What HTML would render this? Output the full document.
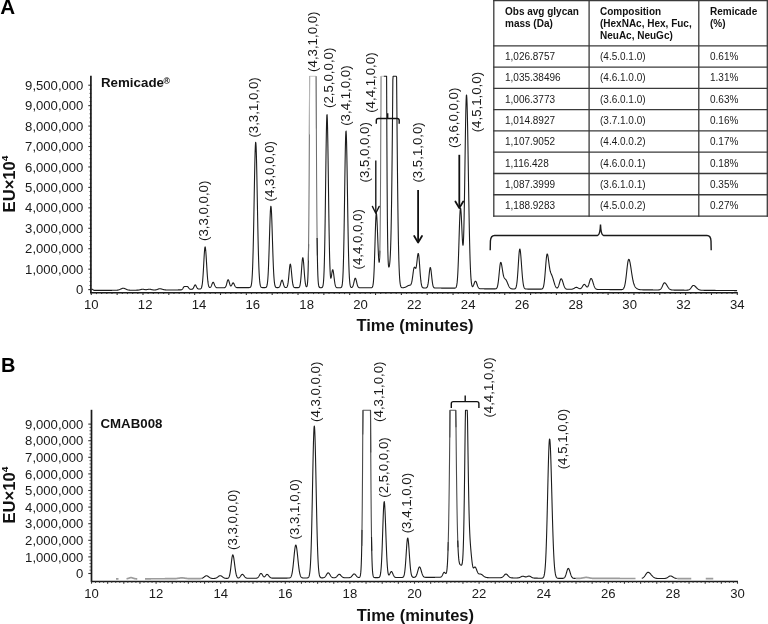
<!DOCTYPE html>
<html><head><meta charset="utf-8"><style>
html,body{margin:0;padding:0;background:#fff;}
svg{display:block;font-family:"Liberation Sans", sans-serif;will-change:transform;}
</style></head><body>
<svg width="768" height="624" viewBox="0 0 768 624">
<rect width="768" height="624" fill="#fff"/>
<text x="0.20" y="14.20" font-size="20.6" font-weight="bold" text-anchor="start" fill="#000" >A</text>
<text transform="translate(14.7,212.4) rotate(-90) scale(1.065,1)" font-size="15.6" font-weight="bold" fill="#111">EU×10<tspan font-size="9.5" dy="-6.3">4</tspan></text>
<text transform="translate(83.40,89.80) scale(1.05,1)" font-size="12.5" font-weight="normal" text-anchor="end" fill="#1a1a1a" >9,500,000</text>
<text transform="translate(83.40,110.24) scale(1.05,1)" font-size="12.5" font-weight="normal" text-anchor="end" fill="#1a1a1a" >9,000,000</text>
<text transform="translate(83.40,130.68) scale(1.05,1)" font-size="12.5" font-weight="normal" text-anchor="end" fill="#1a1a1a" >8,000,000</text>
<text transform="translate(83.40,151.12) scale(1.05,1)" font-size="12.5" font-weight="normal" text-anchor="end" fill="#1a1a1a" >7,000,000</text>
<text transform="translate(83.40,171.56) scale(1.05,1)" font-size="12.5" font-weight="normal" text-anchor="end" fill="#1a1a1a" >6,000,000</text>
<text transform="translate(83.40,192.00) scale(1.05,1)" font-size="12.5" font-weight="normal" text-anchor="end" fill="#1a1a1a" >5,000,000</text>
<text transform="translate(83.40,212.44) scale(1.05,1)" font-size="12.5" font-weight="normal" text-anchor="end" fill="#1a1a1a" >4,000,000</text>
<text transform="translate(83.40,232.88) scale(1.05,1)" font-size="12.5" font-weight="normal" text-anchor="end" fill="#1a1a1a" >3,000,000</text>
<text transform="translate(83.40,253.32) scale(1.05,1)" font-size="12.5" font-weight="normal" text-anchor="end" fill="#1a1a1a" >2,000,000</text>
<text transform="translate(83.40,273.76) scale(1.05,1)" font-size="12.5" font-weight="normal" text-anchor="end" fill="#1a1a1a" >1,000,000</text>
<text transform="translate(83.40,294.20) scale(1.05,1)" font-size="12.5" font-weight="normal" text-anchor="end" fill="#1a1a1a" >0</text>
<line x1="88.30" y1="85.20" x2="91.30" y2="85.20" stroke="#333" stroke-width="1.1"/>
<line x1="89.40" y1="89.29" x2="91.30" y2="89.29" stroke="#666" stroke-width="0.9"/>
<line x1="89.40" y1="93.38" x2="91.30" y2="93.38" stroke="#666" stroke-width="0.9"/>
<line x1="89.40" y1="97.46" x2="91.30" y2="97.46" stroke="#666" stroke-width="0.9"/>
<line x1="89.40" y1="101.55" x2="91.30" y2="101.55" stroke="#666" stroke-width="0.9"/>
<line x1="88.30" y1="105.64" x2="91.30" y2="105.64" stroke="#333" stroke-width="1.1"/>
<line x1="89.40" y1="109.73" x2="91.30" y2="109.73" stroke="#666" stroke-width="0.9"/>
<line x1="89.40" y1="113.82" x2="91.30" y2="113.82" stroke="#666" stroke-width="0.9"/>
<line x1="89.40" y1="117.90" x2="91.30" y2="117.90" stroke="#666" stroke-width="0.9"/>
<line x1="89.40" y1="121.99" x2="91.30" y2="121.99" stroke="#666" stroke-width="0.9"/>
<line x1="88.30" y1="126.08" x2="91.30" y2="126.08" stroke="#333" stroke-width="1.1"/>
<line x1="89.40" y1="130.17" x2="91.30" y2="130.17" stroke="#666" stroke-width="0.9"/>
<line x1="89.40" y1="134.26" x2="91.30" y2="134.26" stroke="#666" stroke-width="0.9"/>
<line x1="89.40" y1="138.34" x2="91.30" y2="138.34" stroke="#666" stroke-width="0.9"/>
<line x1="89.40" y1="142.43" x2="91.30" y2="142.43" stroke="#666" stroke-width="0.9"/>
<line x1="88.30" y1="146.52" x2="91.30" y2="146.52" stroke="#333" stroke-width="1.1"/>
<line x1="89.40" y1="150.61" x2="91.30" y2="150.61" stroke="#666" stroke-width="0.9"/>
<line x1="89.40" y1="154.70" x2="91.30" y2="154.70" stroke="#666" stroke-width="0.9"/>
<line x1="89.40" y1="158.78" x2="91.30" y2="158.78" stroke="#666" stroke-width="0.9"/>
<line x1="89.40" y1="162.87" x2="91.30" y2="162.87" stroke="#666" stroke-width="0.9"/>
<line x1="88.30" y1="166.96" x2="91.30" y2="166.96" stroke="#333" stroke-width="1.1"/>
<line x1="89.40" y1="171.05" x2="91.30" y2="171.05" stroke="#666" stroke-width="0.9"/>
<line x1="89.40" y1="175.14" x2="91.30" y2="175.14" stroke="#666" stroke-width="0.9"/>
<line x1="89.40" y1="179.22" x2="91.30" y2="179.22" stroke="#666" stroke-width="0.9"/>
<line x1="89.40" y1="183.31" x2="91.30" y2="183.31" stroke="#666" stroke-width="0.9"/>
<line x1="88.30" y1="187.40" x2="91.30" y2="187.40" stroke="#333" stroke-width="1.1"/>
<line x1="89.40" y1="191.49" x2="91.30" y2="191.49" stroke="#666" stroke-width="0.9"/>
<line x1="89.40" y1="195.58" x2="91.30" y2="195.58" stroke="#666" stroke-width="0.9"/>
<line x1="89.40" y1="199.66" x2="91.30" y2="199.66" stroke="#666" stroke-width="0.9"/>
<line x1="89.40" y1="203.75" x2="91.30" y2="203.75" stroke="#666" stroke-width="0.9"/>
<line x1="88.30" y1="207.84" x2="91.30" y2="207.84" stroke="#333" stroke-width="1.1"/>
<line x1="89.40" y1="211.93" x2="91.30" y2="211.93" stroke="#666" stroke-width="0.9"/>
<line x1="89.40" y1="216.02" x2="91.30" y2="216.02" stroke="#666" stroke-width="0.9"/>
<line x1="89.40" y1="220.10" x2="91.30" y2="220.10" stroke="#666" stroke-width="0.9"/>
<line x1="89.40" y1="224.19" x2="91.30" y2="224.19" stroke="#666" stroke-width="0.9"/>
<line x1="88.30" y1="228.28" x2="91.30" y2="228.28" stroke="#333" stroke-width="1.1"/>
<line x1="89.40" y1="232.37" x2="91.30" y2="232.37" stroke="#666" stroke-width="0.9"/>
<line x1="89.40" y1="236.46" x2="91.30" y2="236.46" stroke="#666" stroke-width="0.9"/>
<line x1="89.40" y1="240.54" x2="91.30" y2="240.54" stroke="#666" stroke-width="0.9"/>
<line x1="89.40" y1="244.63" x2="91.30" y2="244.63" stroke="#666" stroke-width="0.9"/>
<line x1="88.30" y1="248.72" x2="91.30" y2="248.72" stroke="#333" stroke-width="1.1"/>
<line x1="89.40" y1="252.81" x2="91.30" y2="252.81" stroke="#666" stroke-width="0.9"/>
<line x1="89.40" y1="256.90" x2="91.30" y2="256.90" stroke="#666" stroke-width="0.9"/>
<line x1="89.40" y1="260.98" x2="91.30" y2="260.98" stroke="#666" stroke-width="0.9"/>
<line x1="89.40" y1="265.07" x2="91.30" y2="265.07" stroke="#666" stroke-width="0.9"/>
<line x1="88.30" y1="269.16" x2="91.30" y2="269.16" stroke="#333" stroke-width="1.1"/>
<line x1="89.40" y1="273.25" x2="91.30" y2="273.25" stroke="#666" stroke-width="0.9"/>
<line x1="89.40" y1="277.34" x2="91.30" y2="277.34" stroke="#666" stroke-width="0.9"/>
<line x1="89.40" y1="281.42" x2="91.30" y2="281.42" stroke="#666" stroke-width="0.9"/>
<line x1="89.40" y1="285.51" x2="91.30" y2="285.51" stroke="#666" stroke-width="0.9"/>
<line x1="88.30" y1="289.60" x2="91.30" y2="289.60" stroke="#333" stroke-width="1.1"/>
<line x1="90.90" y1="75.80" x2="90.90" y2="293.30" stroke="#1a1a1a" stroke-width="1.7"/>
<line x1="90.10" y1="292.70" x2="737.80" y2="292.70" stroke="#1a1a1a" stroke-width="1.45"/>
<line x1="91.30" y1="292.70" x2="91.30" y2="295.00" stroke="#333" stroke-width="1.1"/>
<line x1="96.47" y1="292.70" x2="96.47" y2="294.10" stroke="#333" stroke-width="1.1"/>
<line x1="101.64" y1="292.70" x2="101.64" y2="294.10" stroke="#333" stroke-width="1.1"/>
<line x1="106.80" y1="292.70" x2="106.80" y2="294.10" stroke="#333" stroke-width="1.1"/>
<line x1="111.97" y1="292.70" x2="111.97" y2="294.10" stroke="#333" stroke-width="1.1"/>
<line x1="117.14" y1="292.70" x2="117.14" y2="295.00" stroke="#333" stroke-width="1.1"/>
<line x1="122.31" y1="292.70" x2="122.31" y2="294.10" stroke="#333" stroke-width="1.1"/>
<line x1="127.48" y1="292.70" x2="127.48" y2="294.10" stroke="#333" stroke-width="1.1"/>
<line x1="132.64" y1="292.70" x2="132.64" y2="294.10" stroke="#333" stroke-width="1.1"/>
<line x1="137.81" y1="292.70" x2="137.81" y2="294.10" stroke="#333" stroke-width="1.1"/>
<line x1="142.98" y1="292.70" x2="142.98" y2="295.00" stroke="#333" stroke-width="1.1"/>
<line x1="148.15" y1="292.70" x2="148.15" y2="294.10" stroke="#333" stroke-width="1.1"/>
<line x1="153.32" y1="292.70" x2="153.32" y2="294.10" stroke="#333" stroke-width="1.1"/>
<line x1="158.48" y1="292.70" x2="158.48" y2="294.10" stroke="#333" stroke-width="1.1"/>
<line x1="163.65" y1="292.70" x2="163.65" y2="294.10" stroke="#333" stroke-width="1.1"/>
<line x1="168.82" y1="292.70" x2="168.82" y2="295.00" stroke="#333" stroke-width="1.1"/>
<line x1="173.99" y1="292.70" x2="173.99" y2="294.10" stroke="#333" stroke-width="1.1"/>
<line x1="179.16" y1="292.70" x2="179.16" y2="294.10" stroke="#333" stroke-width="1.1"/>
<line x1="184.32" y1="292.70" x2="184.32" y2="294.10" stroke="#333" stroke-width="1.1"/>
<line x1="189.49" y1="292.70" x2="189.49" y2="294.10" stroke="#333" stroke-width="1.1"/>
<line x1="194.66" y1="292.70" x2="194.66" y2="295.00" stroke="#333" stroke-width="1.1"/>
<line x1="199.83" y1="292.70" x2="199.83" y2="294.10" stroke="#333" stroke-width="1.1"/>
<line x1="205.00" y1="292.70" x2="205.00" y2="294.10" stroke="#333" stroke-width="1.1"/>
<line x1="210.16" y1="292.70" x2="210.16" y2="294.10" stroke="#333" stroke-width="1.1"/>
<line x1="215.33" y1="292.70" x2="215.33" y2="294.10" stroke="#333" stroke-width="1.1"/>
<line x1="220.50" y1="292.70" x2="220.50" y2="295.00" stroke="#333" stroke-width="1.1"/>
<line x1="225.67" y1="292.70" x2="225.67" y2="294.10" stroke="#333" stroke-width="1.1"/>
<line x1="230.84" y1="292.70" x2="230.84" y2="294.10" stroke="#333" stroke-width="1.1"/>
<line x1="236.00" y1="292.70" x2="236.00" y2="294.10" stroke="#333" stroke-width="1.1"/>
<line x1="241.17" y1="292.70" x2="241.17" y2="294.10" stroke="#333" stroke-width="1.1"/>
<line x1="246.34" y1="292.70" x2="246.34" y2="295.00" stroke="#333" stroke-width="1.1"/>
<line x1="251.51" y1="292.70" x2="251.51" y2="294.10" stroke="#333" stroke-width="1.1"/>
<line x1="256.68" y1="292.70" x2="256.68" y2="294.10" stroke="#333" stroke-width="1.1"/>
<line x1="261.84" y1="292.70" x2="261.84" y2="294.10" stroke="#333" stroke-width="1.1"/>
<line x1="267.01" y1="292.70" x2="267.01" y2="294.10" stroke="#333" stroke-width="1.1"/>
<line x1="272.18" y1="292.70" x2="272.18" y2="295.00" stroke="#333" stroke-width="1.1"/>
<line x1="277.35" y1="292.70" x2="277.35" y2="294.10" stroke="#333" stroke-width="1.1"/>
<line x1="282.52" y1="292.70" x2="282.52" y2="294.10" stroke="#333" stroke-width="1.1"/>
<line x1="287.68" y1="292.70" x2="287.68" y2="294.10" stroke="#333" stroke-width="1.1"/>
<line x1="292.85" y1="292.70" x2="292.85" y2="294.10" stroke="#333" stroke-width="1.1"/>
<line x1="298.02" y1="292.70" x2="298.02" y2="295.00" stroke="#333" stroke-width="1.1"/>
<line x1="303.19" y1="292.70" x2="303.19" y2="294.10" stroke="#333" stroke-width="1.1"/>
<line x1="308.36" y1="292.70" x2="308.36" y2="294.10" stroke="#333" stroke-width="1.1"/>
<line x1="313.52" y1="292.70" x2="313.52" y2="294.10" stroke="#333" stroke-width="1.1"/>
<line x1="318.69" y1="292.70" x2="318.69" y2="294.10" stroke="#333" stroke-width="1.1"/>
<line x1="323.86" y1="292.70" x2="323.86" y2="295.00" stroke="#333" stroke-width="1.1"/>
<line x1="329.03" y1="292.70" x2="329.03" y2="294.10" stroke="#333" stroke-width="1.1"/>
<line x1="334.20" y1="292.70" x2="334.20" y2="294.10" stroke="#333" stroke-width="1.1"/>
<line x1="339.36" y1="292.70" x2="339.36" y2="294.10" stroke="#333" stroke-width="1.1"/>
<line x1="344.53" y1="292.70" x2="344.53" y2="294.10" stroke="#333" stroke-width="1.1"/>
<line x1="349.70" y1="292.70" x2="349.70" y2="295.00" stroke="#333" stroke-width="1.1"/>
<line x1="354.87" y1="292.70" x2="354.87" y2="294.10" stroke="#333" stroke-width="1.1"/>
<line x1="360.04" y1="292.70" x2="360.04" y2="294.10" stroke="#333" stroke-width="1.1"/>
<line x1="365.20" y1="292.70" x2="365.20" y2="294.10" stroke="#333" stroke-width="1.1"/>
<line x1="370.37" y1="292.70" x2="370.37" y2="294.10" stroke="#333" stroke-width="1.1"/>
<line x1="375.54" y1="292.70" x2="375.54" y2="295.00" stroke="#333" stroke-width="1.1"/>
<line x1="380.71" y1="292.70" x2="380.71" y2="294.10" stroke="#333" stroke-width="1.1"/>
<line x1="385.88" y1="292.70" x2="385.88" y2="294.10" stroke="#333" stroke-width="1.1"/>
<line x1="391.04" y1="292.70" x2="391.04" y2="294.10" stroke="#333" stroke-width="1.1"/>
<line x1="396.21" y1="292.70" x2="396.21" y2="294.10" stroke="#333" stroke-width="1.1"/>
<line x1="401.38" y1="292.70" x2="401.38" y2="295.00" stroke="#333" stroke-width="1.1"/>
<line x1="406.55" y1="292.70" x2="406.55" y2="294.10" stroke="#333" stroke-width="1.1"/>
<line x1="411.72" y1="292.70" x2="411.72" y2="294.10" stroke="#333" stroke-width="1.1"/>
<line x1="416.88" y1="292.70" x2="416.88" y2="294.10" stroke="#333" stroke-width="1.1"/>
<line x1="422.05" y1="292.70" x2="422.05" y2="294.10" stroke="#333" stroke-width="1.1"/>
<line x1="427.22" y1="292.70" x2="427.22" y2="295.00" stroke="#333" stroke-width="1.1"/>
<line x1="432.39" y1="292.70" x2="432.39" y2="294.10" stroke="#333" stroke-width="1.1"/>
<line x1="437.56" y1="292.70" x2="437.56" y2="294.10" stroke="#333" stroke-width="1.1"/>
<line x1="442.72" y1="292.70" x2="442.72" y2="294.10" stroke="#333" stroke-width="1.1"/>
<line x1="447.89" y1="292.70" x2="447.89" y2="294.10" stroke="#333" stroke-width="1.1"/>
<line x1="453.06" y1="292.70" x2="453.06" y2="295.00" stroke="#333" stroke-width="1.1"/>
<line x1="458.23" y1="292.70" x2="458.23" y2="294.10" stroke="#333" stroke-width="1.1"/>
<line x1="463.40" y1="292.70" x2="463.40" y2="294.10" stroke="#333" stroke-width="1.1"/>
<line x1="468.56" y1="292.70" x2="468.56" y2="294.10" stroke="#333" stroke-width="1.1"/>
<line x1="473.73" y1="292.70" x2="473.73" y2="294.10" stroke="#333" stroke-width="1.1"/>
<line x1="478.90" y1="292.70" x2="478.90" y2="295.00" stroke="#333" stroke-width="1.1"/>
<line x1="484.07" y1="292.70" x2="484.07" y2="294.10" stroke="#333" stroke-width="1.1"/>
<line x1="489.24" y1="292.70" x2="489.24" y2="294.10" stroke="#333" stroke-width="1.1"/>
<line x1="494.40" y1="292.70" x2="494.40" y2="294.10" stroke="#333" stroke-width="1.1"/>
<line x1="499.57" y1="292.70" x2="499.57" y2="294.10" stroke="#333" stroke-width="1.1"/>
<line x1="504.74" y1="292.70" x2="504.74" y2="295.00" stroke="#333" stroke-width="1.1"/>
<line x1="509.91" y1="292.70" x2="509.91" y2="294.10" stroke="#333" stroke-width="1.1"/>
<line x1="515.08" y1="292.70" x2="515.08" y2="294.10" stroke="#333" stroke-width="1.1"/>
<line x1="520.24" y1="292.70" x2="520.24" y2="294.10" stroke="#333" stroke-width="1.1"/>
<line x1="525.41" y1="292.70" x2="525.41" y2="294.10" stroke="#333" stroke-width="1.1"/>
<line x1="530.58" y1="292.70" x2="530.58" y2="295.00" stroke="#333" stroke-width="1.1"/>
<line x1="535.75" y1="292.70" x2="535.75" y2="294.10" stroke="#333" stroke-width="1.1"/>
<line x1="540.92" y1="292.70" x2="540.92" y2="294.10" stroke="#333" stroke-width="1.1"/>
<line x1="546.08" y1="292.70" x2="546.08" y2="294.10" stroke="#333" stroke-width="1.1"/>
<line x1="551.25" y1="292.70" x2="551.25" y2="294.10" stroke="#333" stroke-width="1.1"/>
<line x1="556.42" y1="292.70" x2="556.42" y2="295.00" stroke="#333" stroke-width="1.1"/>
<line x1="561.59" y1="292.70" x2="561.59" y2="294.10" stroke="#333" stroke-width="1.1"/>
<line x1="566.76" y1="292.70" x2="566.76" y2="294.10" stroke="#333" stroke-width="1.1"/>
<line x1="571.92" y1="292.70" x2="571.92" y2="294.10" stroke="#333" stroke-width="1.1"/>
<line x1="577.09" y1="292.70" x2="577.09" y2="294.10" stroke="#333" stroke-width="1.1"/>
<line x1="582.26" y1="292.70" x2="582.26" y2="295.00" stroke="#333" stroke-width="1.1"/>
<line x1="587.43" y1="292.70" x2="587.43" y2="294.10" stroke="#333" stroke-width="1.1"/>
<line x1="592.60" y1="292.70" x2="592.60" y2="294.10" stroke="#333" stroke-width="1.1"/>
<line x1="597.76" y1="292.70" x2="597.76" y2="294.10" stroke="#333" stroke-width="1.1"/>
<line x1="602.93" y1="292.70" x2="602.93" y2="294.10" stroke="#333" stroke-width="1.1"/>
<line x1="608.10" y1="292.70" x2="608.10" y2="295.00" stroke="#333" stroke-width="1.1"/>
<line x1="613.27" y1="292.70" x2="613.27" y2="294.10" stroke="#333" stroke-width="1.1"/>
<line x1="618.44" y1="292.70" x2="618.44" y2="294.10" stroke="#333" stroke-width="1.1"/>
<line x1="623.60" y1="292.70" x2="623.60" y2="294.10" stroke="#333" stroke-width="1.1"/>
<line x1="628.77" y1="292.70" x2="628.77" y2="294.10" stroke="#333" stroke-width="1.1"/>
<line x1="633.94" y1="292.70" x2="633.94" y2="295.00" stroke="#333" stroke-width="1.1"/>
<line x1="639.11" y1="292.70" x2="639.11" y2="294.10" stroke="#333" stroke-width="1.1"/>
<line x1="644.28" y1="292.70" x2="644.28" y2="294.10" stroke="#333" stroke-width="1.1"/>
<line x1="649.44" y1="292.70" x2="649.44" y2="294.10" stroke="#333" stroke-width="1.1"/>
<line x1="654.61" y1="292.70" x2="654.61" y2="294.10" stroke="#333" stroke-width="1.1"/>
<line x1="659.78" y1="292.70" x2="659.78" y2="295.00" stroke="#333" stroke-width="1.1"/>
<line x1="664.95" y1="292.70" x2="664.95" y2="294.10" stroke="#333" stroke-width="1.1"/>
<line x1="670.12" y1="292.70" x2="670.12" y2="294.10" stroke="#333" stroke-width="1.1"/>
<line x1="675.28" y1="292.70" x2="675.28" y2="294.10" stroke="#333" stroke-width="1.1"/>
<line x1="680.45" y1="292.70" x2="680.45" y2="294.10" stroke="#333" stroke-width="1.1"/>
<line x1="685.62" y1="292.70" x2="685.62" y2="295.00" stroke="#333" stroke-width="1.1"/>
<line x1="690.79" y1="292.70" x2="690.79" y2="294.10" stroke="#333" stroke-width="1.1"/>
<line x1="695.96" y1="292.70" x2="695.96" y2="294.10" stroke="#333" stroke-width="1.1"/>
<line x1="701.12" y1="292.70" x2="701.12" y2="294.10" stroke="#333" stroke-width="1.1"/>
<line x1="706.29" y1="292.70" x2="706.29" y2="294.10" stroke="#333" stroke-width="1.1"/>
<line x1="711.46" y1="292.70" x2="711.46" y2="295.00" stroke="#333" stroke-width="1.1"/>
<line x1="716.63" y1="292.70" x2="716.63" y2="294.10" stroke="#333" stroke-width="1.1"/>
<line x1="721.80" y1="292.70" x2="721.80" y2="294.10" stroke="#333" stroke-width="1.1"/>
<line x1="726.96" y1="292.70" x2="726.96" y2="294.10" stroke="#333" stroke-width="1.1"/>
<line x1="732.13" y1="292.70" x2="732.13" y2="294.10" stroke="#333" stroke-width="1.1"/>
<line x1="737.30" y1="292.70" x2="737.30" y2="295.00" stroke="#333" stroke-width="1.1"/>
<text transform="translate(91.30,309.00) scale(1.05,1)" font-size="12.5" font-weight="normal" text-anchor="middle" fill="#1a1a1a" >10</text>
<text transform="translate(145.13,309.00) scale(1.05,1)" font-size="12.5" font-weight="normal" text-anchor="middle" fill="#1a1a1a" >12</text>
<text transform="translate(198.97,309.00) scale(1.05,1)" font-size="12.5" font-weight="normal" text-anchor="middle" fill="#1a1a1a" >14</text>
<text transform="translate(252.80,309.00) scale(1.05,1)" font-size="12.5" font-weight="normal" text-anchor="middle" fill="#1a1a1a" >16</text>
<text transform="translate(306.63,309.00) scale(1.05,1)" font-size="12.5" font-weight="normal" text-anchor="middle" fill="#1a1a1a" >18</text>
<text transform="translate(360.47,309.00) scale(1.05,1)" font-size="12.5" font-weight="normal" text-anchor="middle" fill="#1a1a1a" >20</text>
<text transform="translate(414.30,309.00) scale(1.05,1)" font-size="12.5" font-weight="normal" text-anchor="middle" fill="#1a1a1a" >22</text>
<text transform="translate(468.13,309.00) scale(1.05,1)" font-size="12.5" font-weight="normal" text-anchor="middle" fill="#1a1a1a" >24</text>
<text transform="translate(521.97,309.00) scale(1.05,1)" font-size="12.5" font-weight="normal" text-anchor="middle" fill="#1a1a1a" >26</text>
<text transform="translate(575.80,309.00) scale(1.05,1)" font-size="12.5" font-weight="normal" text-anchor="middle" fill="#1a1a1a" >28</text>
<text transform="translate(629.63,309.00) scale(1.05,1)" font-size="12.5" font-weight="normal" text-anchor="middle" fill="#1a1a1a" >30</text>
<text transform="translate(683.47,309.00) scale(1.05,1)" font-size="12.5" font-weight="normal" text-anchor="middle" fill="#1a1a1a" >32</text>
<text transform="translate(737.30,309.00) scale(1.05,1)" font-size="12.5" font-weight="normal" text-anchor="middle" fill="#1a1a1a" >34</text>
<text transform="translate(415.0,331.0) scale(1.06,1)" font-size="15.6" font-weight="bold" text-anchor="middle" fill="#111">Time (minutes)</text>
<text transform="translate(101.0,86.9) scale(1.025,1)" font-size="13" font-weight="bold" fill="#111">Remicade<tspan font-size="8.5" dx="-0.4" dy="-3.0">®</tspan></text>
<polyline points="91.60,288.86 91.85,289.02 92.10,289.18 92.35,289.34 92.60,289.50 92.85,289.66 93.10,289.82 93.35,289.98 93.60,290.14 93.85,290.30 94.10,290.40 94.35,290.40 94.60,290.40 94.85,290.40 95.10,290.40 95.35,290.39 95.60,290.39 95.85,290.39 96.10,290.39 96.35,290.39 96.60,290.39 96.85,290.39 97.10,290.39 97.35,290.39 97.60,290.38 97.85,290.38 98.10,290.38 98.35,290.38 98.60,290.38 98.85,290.38 99.10,290.38 99.35,290.38 99.60,290.38 99.85,290.38 100.10,290.37 100.35,290.37 100.60,290.37 100.85,290.37 101.10,290.37 101.35,290.37 101.60,290.37 101.85,290.37 102.10,290.37 102.35,290.37 102.60,290.36 102.85,290.36 103.10,290.36 103.35,290.36 103.60,290.36 103.85,290.36 104.10,290.36 104.35,290.36 104.60,290.36 104.85,290.35 105.10,290.35 105.35,290.35 105.60,290.35 105.85,290.35 106.10,290.35 106.35,290.35 106.60,290.35 106.85,290.35 107.10,290.35 107.35,290.34 107.60,290.34 107.85,290.34 108.10,290.34 108.35,290.34 108.60,290.34 108.85,290.34 109.10,290.34 109.35,290.34 109.60,290.33 109.85,290.33 110.10,290.33 110.35,290.33 110.60,290.33 110.85,290.33 111.10,290.33 111.35,290.33 111.60,290.33 111.85,290.33 112.10,290.32 112.35,290.32 112.60,290.32 112.85,290.32 113.10,290.32 113.35,290.32 113.60,290.32 113.85,290.32 114.10,290.31 114.35,290.31 114.60,290.31 114.85,290.31 115.10,290.30 115.35,290.30 115.60,290.29 115.85,290.28 116.10,290.27 116.35,290.26 116.60,290.24 116.85,290.23 117.10,290.20 117.35,290.17 117.60,290.14 117.85,290.10 118.10,290.05 118.35,289.99 118.60,289.93 118.85,289.85 119.10,289.77 119.35,289.68 119.60,289.58 119.85,289.47 120.10,289.36 120.35,289.24 120.60,289.12 120.85,289.00 121.10,288.88 121.35,288.76 121.60,288.65 121.85,288.55 122.10,288.46 122.35,288.39 122.60,288.33 122.85,288.29 123.10,288.27 123.35,288.27 123.60,288.29 123.85,288.33 124.10,288.39 124.35,288.46 124.60,288.55 124.85,288.65 125.10,288.76 125.35,288.87 125.60,288.99 125.85,289.11 126.10,289.23 126.35,289.34 126.60,289.45 126.85,289.56 127.10,289.65 127.35,289.74 127.60,289.81 127.85,289.88 128.10,289.94 128.35,290.00 128.60,290.04 128.85,290.08 129.10,290.11 129.35,290.13 129.60,290.15 129.85,290.17 130.10,290.18 130.35,290.19 130.60,290.20 130.85,290.20 131.10,290.20 131.35,290.21 131.60,290.21 131.85,290.21 132.10,290.21 132.35,290.21 132.60,290.21 132.85,290.21 133.10,290.20 133.35,290.20 133.60,290.20 133.85,290.20 134.10,290.20 134.35,290.20 134.60,290.20 134.85,290.19 135.10,290.19 135.35,290.19 135.60,290.19 135.85,290.19 136.10,290.18 136.35,290.18 136.60,290.17 136.85,290.17 137.10,290.16 137.35,290.15 137.60,290.14 137.85,290.12 138.10,290.10 138.35,290.08 138.60,290.05 138.85,290.01 139.10,289.97 139.35,289.93 139.60,289.87 139.85,289.81 140.10,289.75 140.35,289.68 140.60,289.61 140.85,289.54 141.10,289.48 141.35,289.41 141.60,289.36 141.85,289.31 142.10,289.28 142.35,289.25 142.60,289.24 142.85,289.25 143.10,289.26 143.35,289.29 143.60,289.33 143.85,289.38 144.10,289.43 144.35,289.48 144.60,289.54 144.85,289.59 145.10,289.63 145.35,289.66 145.60,289.69 145.85,289.70 146.10,289.70 146.35,289.69 146.60,289.66 146.85,289.63 147.10,289.58 147.35,289.53 147.60,289.48 147.85,289.42 148.10,289.36 148.35,289.31 148.60,289.27 148.85,289.23 149.10,289.21 149.35,289.20 149.60,289.21 149.85,289.22 150.10,289.25 150.35,289.29 150.60,289.34 150.85,289.40 151.10,289.47 151.35,289.53 151.60,289.60 151.85,289.66 152.10,289.72 152.35,289.78 152.60,289.83 152.85,289.88 153.10,289.91 153.35,289.94 153.60,289.97 153.85,289.98 154.10,290.00 154.35,290.00 154.60,290.00 154.85,289.99 155.10,289.97 155.35,289.95 155.60,289.91 155.85,289.87 156.10,289.82 156.35,289.76 156.60,289.70 156.85,289.62 157.10,289.53 157.35,289.44 157.60,289.34 157.85,289.24 158.10,289.14 158.35,289.05 158.60,288.96 158.85,288.88 159.10,288.82 159.35,288.77 159.60,288.75 159.85,288.74 160.10,288.75 160.35,288.77 160.60,288.80 160.85,288.84 161.10,288.90 161.35,288.96 161.60,289.02 161.85,289.10 162.10,289.17 162.35,289.25 162.60,289.33 162.85,289.40 163.10,289.47 163.35,289.54 163.60,289.61 163.85,289.66 164.10,289.72 164.35,289.76 164.60,289.80 164.85,289.84 165.10,289.87 165.35,289.89 165.60,289.91 165.85,289.93 166.10,289.95 166.35,289.96 166.60,289.96 166.85,289.97 167.10,289.97 167.35,289.98 167.60,289.98 167.85,289.98 168.10,289.98 168.35,289.98 168.60,289.98 168.85,289.98 169.10,289.98 169.35,289.98 169.60,289.98 169.85,289.98 170.10,289.97 170.35,289.97 170.60,289.97 170.85,289.97 171.10,289.97 171.35,289.97 171.60,289.96 171.85,289.96 172.10,289.96 172.35,289.96 172.60,289.96 172.85,289.96 173.10,289.96 173.35,289.95 173.60,289.95 173.85,289.95 174.10,289.95 174.35,289.95 174.60,289.95 174.85,289.94 175.10,289.94 175.35,289.94 175.60,289.94 175.85,289.94 176.10,289.94 176.35,289.94 176.60,289.93 176.85,289.93 177.10,289.93 177.35,289.93 177.60,289.93 177.85,289.93 178.10,289.92 178.35,289.92 178.60,289.92 178.85,289.92 179.10,289.92 179.35,289.92 179.60,289.91 179.85,289.91 180.10,289.91 180.35,289.90 180.60,289.89 180.85,289.88 181.10,289.85 181.35,289.80 181.60,289.72 181.85,289.60 182.10,289.42 182.35,289.16 182.60,288.84 182.85,288.45 183.10,288.02 183.35,287.59 183.60,287.19 183.85,286.86 184.10,286.64 184.35,286.54 184.60,286.48 184.85,286.46 185.10,286.46 185.35,286.48 185.60,286.51 185.85,286.53 186.10,286.54 186.35,286.54 186.60,286.53 186.85,286.53 187.10,286.54 187.35,286.58 187.60,286.65 187.85,286.79 188.10,287.03 188.35,287.34 188.60,287.70 188.85,288.07 189.10,288.40 189.35,288.69 189.60,288.92 189.85,289.08 190.10,289.20 190.35,289.27 190.60,289.31 190.85,289.33 191.10,289.33 191.35,289.32 191.60,289.30 191.85,289.26 192.10,289.20 192.35,289.11 192.60,288.96 192.85,288.75 193.10,288.46 193.35,288.09 193.60,287.62 193.85,287.09 194.10,286.51 194.35,285.95 194.60,285.46 194.85,285.10 195.10,284.91 195.35,284.92 195.60,285.11 195.85,285.45 196.10,285.91 196.35,286.43 196.60,286.96 196.85,287.46 197.10,287.89 197.35,288.24 197.60,288.51 197.85,288.71 198.10,288.84 198.35,288.93 198.60,288.98 198.85,289.00 199.10,289.01 199.35,289.01 199.60,289.00 199.85,288.98 200.10,288.94 200.35,288.87 200.60,288.77 200.85,288.61 201.10,288.35 201.35,287.96 201.60,287.37 201.85,286.49 202.10,285.23 202.35,283.51 202.60,281.22 202.85,278.31 203.10,274.78 203.35,270.69 203.60,266.18 203.85,261.51 204.10,256.97 204.35,252.91 204.60,249.70 204.85,247.62 205.10,246.89 205.35,247.47 205.60,249.22 205.85,251.99 206.10,255.55 206.35,259.62 206.60,263.90 206.85,268.14 207.10,272.12 207.35,275.67 207.60,278.70 207.85,281.19 208.10,283.15 208.35,284.63 208.60,285.71 208.85,286.46 209.10,286.96 209.35,287.27 209.60,287.43 209.85,287.48 210.10,287.45 210.35,287.34 210.60,287.14 210.85,286.83 211.10,286.42 211.35,285.89 211.60,285.27 211.85,284.59 212.10,283.90 212.35,283.26 212.60,282.74 212.85,282.40 213.10,282.28 213.35,282.38 213.60,282.67 213.85,283.12 214.10,283.69 214.35,284.31 214.60,284.95 214.85,285.55 215.10,286.09 215.35,286.54 215.60,286.91 215.85,287.18 216.10,287.39 216.35,287.53 216.60,287.62 216.85,287.68 217.10,287.72 217.35,287.74 217.60,287.75 217.85,287.75 218.10,287.76 218.35,287.76 218.60,287.76 218.85,287.76 219.10,287.75 219.35,287.75 219.60,287.75 219.85,287.75 220.10,287.75 220.35,287.75 220.60,287.75 220.85,287.75 221.10,287.74 221.35,287.74 221.60,287.74 221.85,287.74 222.10,287.74 222.35,287.74 222.60,287.74 222.85,287.74 223.10,287.73 223.35,287.73 223.60,287.72 223.85,287.72 224.10,287.70 224.35,287.67 224.60,287.61 224.85,287.52 225.10,287.37 225.35,287.14 225.60,286.81 225.85,286.34 226.10,285.72 226.35,284.96 226.60,284.05 226.85,283.07 227.10,282.06 227.35,281.13 227.60,280.38 227.85,279.88 228.10,279.71 228.35,279.85 228.60,280.27 228.85,280.92 229.10,281.73 229.35,282.63 229.60,283.52 229.85,284.35 230.10,285.04 230.35,285.56 230.60,285.89 230.85,286.01 231.10,285.94 231.35,285.68 231.60,285.28 231.85,284.78 232.10,284.23 232.35,283.70 232.60,283.27 232.85,282.98 233.10,282.88 233.35,282.97 233.60,283.22 233.85,283.62 234.10,284.11 234.35,284.65 234.60,285.21 234.85,285.74 235.10,286.20 235.35,286.60 235.60,286.92 235.85,287.16 236.10,287.33 236.35,287.46 236.60,287.54 236.85,287.59 237.10,287.62 237.35,287.64 237.60,287.65 237.85,287.65 238.10,287.66 238.35,287.66 238.60,287.66 238.85,287.66 239.10,287.65 239.35,287.65 239.60,287.65 239.85,287.65 240.10,287.65 240.35,287.65 240.60,287.65 240.85,287.65 241.10,287.64 241.35,287.64 241.60,287.64 241.85,287.64 242.10,287.64 242.35,287.64 242.60,287.64 242.85,287.64 243.10,287.63 243.35,287.63 243.60,287.63 243.85,287.63 244.10,287.63 244.35,287.63 244.60,287.63 244.85,287.63 245.10,287.62 245.35,287.62 245.60,287.62 245.85,287.62 246.10,287.62 246.35,287.62 246.60,287.62 246.85,287.62 247.10,287.61 247.35,287.61 247.60,287.61 247.85,287.61 248.10,287.61 248.35,287.61 248.60,287.60 248.85,287.60 249.10,287.59 249.35,287.57 249.60,287.54 249.85,287.48 250.10,287.39 250.35,287.22 250.60,286.95 250.85,286.51 251.10,285.82 251.35,284.77 251.60,283.20 251.85,280.95 252.10,277.80 252.35,273.53 252.60,267.91 252.85,260.77 253.10,251.97 253.35,241.50 253.60,229.49 253.85,216.23 254.10,202.20 254.35,188.03 254.60,174.50 254.85,162.42 255.10,152.61 255.35,145.77 255.60,142.41 255.85,142.75 256.10,146.58 256.35,153.63 256.60,163.40 256.85,175.23 257.10,188.39 257.35,202.12 257.60,215.72 257.85,228.62 258.10,240.37 258.35,250.70 258.60,259.46 258.85,266.66 259.10,272.40 259.35,276.83 259.60,280.15 259.85,282.58 260.10,284.30 260.35,285.48 260.60,286.28 260.85,286.80 261.10,287.13 261.35,287.33 261.60,287.45 261.85,287.53 262.10,287.57 262.35,287.59 262.60,287.60 262.85,287.61 263.10,287.61 263.35,287.62 263.60,287.62 263.85,287.62 264.10,287.62 264.35,287.62 264.60,287.61 264.85,287.61 265.10,287.59 265.35,287.57 265.60,287.52 265.85,287.43 266.10,287.28 266.35,287.03 266.60,286.62 266.85,285.97 267.10,284.99 267.35,283.55 267.60,281.51 267.85,278.70 268.10,274.99 268.35,270.26 268.60,264.46 268.85,257.63 269.10,249.91 269.35,241.60 269.60,233.10 269.85,224.92 270.10,217.63 270.35,211.78 270.60,207.85 270.85,206.18 271.10,206.85 271.35,209.71 271.60,214.54 271.85,220.94 272.10,228.45 272.35,236.55 272.60,244.75 272.85,252.62 273.10,259.83 273.35,266.16 273.60,271.50 273.85,275.85 274.10,279.26 274.35,281.85 274.60,283.74 274.85,285.09 275.10,286.02 275.35,286.63 275.60,287.03 275.85,287.28 276.10,287.43 276.35,287.52 276.60,287.58 276.85,287.60 277.10,287.62 277.35,287.62 277.60,287.62 277.85,287.62 278.10,287.60 278.35,287.56 278.60,287.50 278.85,287.40 279.10,287.23 279.35,286.98 279.60,286.62 279.85,286.13 280.10,285.50 280.35,284.73 280.60,283.84 280.85,282.90 281.10,281.98 281.35,281.17 281.60,280.55 281.85,280.20 282.10,280.17 282.35,280.46 282.60,281.02 282.85,281.81 283.10,282.72 283.35,283.66 283.60,284.56 283.85,285.36 284.10,286.02 284.35,286.54 284.60,286.93 284.85,287.20 285.10,287.38 285.35,287.49 285.60,287.54 285.85,287.56 286.10,287.54 286.35,287.48 286.60,287.35 286.85,287.13 287.10,286.76 287.35,286.20 287.60,285.37 287.85,284.21 288.10,282.66 288.35,280.69 288.60,278.33 288.85,275.66 289.10,272.83 289.35,270.05 289.60,267.56 289.85,265.63 290.10,264.45 290.35,264.17 290.60,264.77 290.85,266.17 291.10,268.21 291.35,270.70 291.60,273.40 291.85,276.11 292.10,278.65 292.35,280.88 292.60,282.74 292.85,284.22 293.10,285.35 293.35,286.16 293.60,286.72 293.85,287.09 294.10,287.33 294.35,287.48 294.60,287.56 294.85,287.61 295.10,287.63 295.35,287.65 295.60,287.66 295.85,287.66 296.10,287.66 296.35,287.66 296.60,287.66 296.85,287.66 297.10,287.66 297.35,287.66 297.60,287.66 297.85,287.65 298.10,287.64 298.35,287.61 298.60,287.56 298.85,287.46 299.10,287.29 299.35,287.00 299.60,286.53 299.85,285.81 300.10,284.76 300.35,283.27 300.60,281.29 300.85,278.78 301.10,275.77 301.35,272.36 301.60,268.75 301.85,265.19 302.10,262.02 302.35,259.55 302.60,258.05 302.85,257.69 303.10,258.46 303.35,260.24 303.60,262.85 303.85,266.02 304.10,269.48 304.35,272.93 304.60,276.17 304.85,279.02 305.10,281.40 305.35,283.28 305.60,284.70 305.85,285.71 306.10,286.37 306.35,286.73 306.60,286.81 306.85,286.57 307.10,285.89 307.35,284.54 307.60,282.13 307.85,278.03 308.10,271.29 308.35,260.60 308.60,244.14" fill="none" stroke="#1c1c1c" stroke-width="1.1" stroke-linejoin="round"/>
<polyline points="308.35,260.60 308.60,244.14 308.85,219.58 309.10,184.10 309.35,134.44 309.60,76.30" fill="none" stroke="#6e6e6e" stroke-width="1.05" stroke-linejoin="round"/>
<polyline points="309.35,134.44 309.60,76.30 309.85,76.30 310.10,76.30 310.35,76.30 310.60,76.30 310.85,76.30 311.10,76.30 311.35,76.30 311.60,76.30 311.85,76.30 312.10,76.30 312.35,76.30 312.60,76.30 312.85,76.30 313.10,76.30 313.35,76.30 313.60,76.30 313.85,76.30 314.10,76.30 314.35,76.30 314.60,76.30 314.85,76.30 315.10,76.30 315.35,76.30 315.60,76.30 315.85,76.30 316.10,76.30 316.35,128.57" fill="none" stroke="#b8b8b8" stroke-width="1.0" stroke-linejoin="round"/>
<polyline points="316.10,76.30 316.35,128.57 316.60,177.09 316.85,212.67 317.10,238.03 317.35,255.61" fill="none" stroke="#6e6e6e" stroke-width="1.05" stroke-linejoin="round"/>
<polyline points="317.10,238.03 317.35,255.61 317.60,267.47 317.85,275.25 318.10,280.22 318.35,283.32 318.60,285.19 318.85,286.30 319.10,286.93 319.35,287.29 319.60,287.48 319.85,287.59 320.10,287.64 320.35,287.67 320.60,287.68 320.85,287.68 321.10,287.68 321.35,287.67 321.60,287.64 321.85,287.58 322.10,287.46 322.35,287.24 322.60,286.84 322.85,286.16 323.10,285.02 323.35,283.21 323.60,280.42 323.85,276.29 324.10,270.43 324.35,262.43 324.60,251.97 324.85,238.89 325.10,223.26 325.35,205.49 325.60,186.36 325.85,167.00 326.10,148.77 326.35,133.19 326.60,121.65 326.85,115.27 327.10,114.64 327.35,119.54 327.60,129.43 327.85,143.40 328.10,160.27 328.35,178.69 328.60,197.35 328.85,215.14 329.10,231.18 329.35,244.93 329.60,256.14 329.85,264.79 330.10,271.04 330.35,275.15 330.60,277.45 330.85,278.27 331.10,277.93 331.35,276.76 331.60,275.10 331.85,273.27 332.10,271.60 332.35,270.34 332.60,269.71 332.85,269.80 333.10,270.53 333.35,271.82 333.60,273.54 333.85,275.54 334.10,277.63 334.35,279.67 334.60,281.53 334.85,283.13 335.10,284.44 335.35,285.46 335.60,286.22 335.85,286.76 336.10,287.13 336.35,287.37 336.60,287.52 336.85,287.61 337.10,287.66 337.35,287.69 337.60,287.70 337.85,287.71 338.10,287.71 338.35,287.72 338.60,287.72 338.85,287.72 339.10,287.72 339.35,287.72 339.60,287.72 339.85,287.71 340.10,287.71 340.35,287.70 340.60,287.67 340.85,287.61 341.10,287.51 341.35,287.31 341.60,286.95 341.85,286.33 342.10,285.30 342.35,283.66 342.60,281.14 342.85,277.40 343.10,272.10 343.35,264.86 343.60,255.39 343.85,243.55 344.10,229.41 344.35,213.34 344.60,196.03 344.85,178.50 345.10,162.01 345.35,147.91 345.60,137.47 345.85,131.69 346.10,131.10 346.35,135.24 346.60,143.61 346.85,155.51 347.10,169.99 347.35,185.95 347.60,202.32 347.85,218.16 348.10,232.72 348.35,245.51 348.60,256.27 348.85,264.98 349.10,271.76 349.35,276.85 349.60,280.53 349.85,283.11 350.10,284.85 350.35,285.98 350.60,286.70 350.85,287.12 351.10,287.36 351.35,287.47 351.60,287.48 351.85,287.41 352.10,287.25 352.35,287.00 352.60,286.63 352.85,286.13 353.10,285.47 353.35,284.65 353.60,283.70 353.85,282.64 354.10,281.53 354.35,280.47 354.60,279.52 354.85,278.79 355.10,278.35 355.35,278.25 355.60,278.49 355.85,279.05 356.10,279.88 356.35,280.89 356.60,281.98 356.85,283.08 357.10,284.10 357.35,285.00 357.60,285.76 357.85,286.36 358.10,286.81 358.35,287.14 358.60,287.37 358.85,287.52 359.10,287.61 359.35,287.67 359.60,287.71 359.85,287.73 360.10,287.74 360.35,287.74 360.60,287.75 360.85,287.75 361.10,287.75 361.35,287.75 361.60,287.75 361.85,287.75 362.10,287.75 362.35,287.75 362.60,287.75 362.85,287.75 363.10,287.75 363.35,287.75 363.60,287.75 363.85,287.75 364.10,287.75 364.35,287.75 364.60,287.75 364.85,287.75 365.10,287.75 365.35,287.75 365.60,287.75 365.85,287.75 366.10,287.75 366.35,287.76 366.60,287.76 366.85,287.76 367.10,287.76 367.35,287.76 367.60,287.76 367.85,287.76 368.10,287.76 368.35,287.76 368.60,287.76 368.85,287.76 369.10,287.76 369.35,287.76 369.60,287.76 369.85,287.76 370.10,287.76 370.35,287.76 370.60,287.76 370.85,287.75 371.10,287.74 371.35,287.71 371.60,287.67 371.85,287.57 372.10,287.39 372.35,287.08 372.60,286.55 372.85,285.69 373.10,284.35 373.35,282.35 373.60,279.49 373.85,275.57 374.10,270.48 374.35,264.15 374.60,256.70 374.85,248.40 375.10,239.71 375.35,231.25 375.60,223.73 375.85,217.85 376.10,214.17 376.35,213.05 376.60,214.24 376.85,217.44 377.10,222.26 377.35,228.22 377.60,234.76 377.85,241.36 378.10,247.56 378.35,253.01 378.60,257.45 378.85,260.65 379.10,262.30 379.35,261.89 379.60,258.51 379.85,250.64" fill="none" stroke="#1c1c1c" stroke-width="1.1" stroke-linejoin="round"/>
<polyline points="379.60,258.51 379.85,250.64 380.10,236.01 380.35,211.46 380.60,173.00 380.85,115.97 381.10,76.30" fill="none" stroke="#6e6e6e" stroke-width="1.05" stroke-linejoin="round"/>
<polyline points="380.85,115.97 381.10,76.30 381.35,76.30 381.60,76.30 381.85,76.30 382.10,76.30 382.35,76.30 382.60,76.30 382.85,76.30 383.10,76.30 383.35,76.30 383.60,76.30 383.85,76.30 384.10,76.30" fill="none" stroke="#b8b8b8" stroke-width="1.0" stroke-linejoin="round"/>
<polyline points="383.85,76.30 384.10,76.30 384.35,76.30 384.60,76.30 384.85,76.30 385.10,76.30 385.35,76.30 385.60,76.30 385.85,76.30 386.10,76.30 386.35,76.30 386.60,76.30 386.85,134.11 387.10,182.37 387.35,215.65 387.60,237.62 387.85,251.44 388.10,259.66 388.35,264.19 388.60,266.37 388.85,267.10 389.10,266.88 389.35,265.98 389.60,264.43 389.85,262.13 390.10,258.87 390.35,254.36 390.60,248.25 390.85,240.15 391.10,229.71 391.35,216.60 391.60,200.57 391.85,181.54 392.10,159.55 392.35,134.90 392.60,108.09 392.85,79.88 393.10,76.30 393.35,76.30 393.60,76.30 393.85,76.30 394.10,76.30 394.35,76.30 394.60,76.30 394.85,76.30 395.10,76.30 395.35,76.30 395.60,76.30 395.85,76.30 396.10,76.30 396.35,76.30 396.60,77.20 396.85,106.37 397.10,134.42 397.35,160.55 397.60,184.21 397.85,205.04 398.10,222.92 398.35,237.89 398.60,250.12 398.85,259.89 399.10,267.51 399.35,273.32 399.60,277.67 399.85,280.84 400.10,283.11 400.35,284.70 400.60,285.78 400.85,286.52 401.10,287.00 401.35,287.30 401.60,287.50 401.85,287.61 402.10,287.68 402.35,287.72 402.60,287.73 402.85,287.73 403.10,287.72 403.35,287.70 403.60,287.67 403.85,287.63 404.10,287.58 404.35,287.53 404.60,287.46 404.85,287.39 405.10,287.30 405.35,287.21 405.60,287.10 405.85,286.98 406.10,286.85 406.35,286.71 406.60,286.57 406.85,286.42 407.10,286.27 407.35,286.12 407.60,285.98 407.85,285.84 408.10,285.71 408.35,285.60 408.60,285.51 408.85,285.43 409.10,285.36 409.35,285.31 409.60,285.26 409.85,285.21 410.10,285.14 410.35,285.03 410.60,284.85 410.85,284.56 411.10,284.13 411.35,283.51 411.60,282.68 411.85,281.59 412.10,280.25 412.35,278.68 412.60,276.90 412.85,275.01 413.10,273.10 413.35,271.29 413.60,269.71 413.85,268.45 414.10,267.61 414.35,267.19 414.60,267.16 414.85,267.41 415.10,267.80 415.35,268.19 415.60,268.38 415.85,268.22 416.10,267.58 416.35,266.42 416.60,264.75 416.85,262.66 417.10,260.33 417.35,258.00 417.60,255.91 417.85,254.32 418.10,253.45 418.35,253.43 418.60,254.32 418.85,256.09 419.10,258.61 419.35,261.70 419.60,265.14 419.85,268.71 420.10,272.19 420.35,275.41 420.60,278.27 420.85,280.69 421.10,282.67 421.35,284.22 421.60,285.39 421.85,286.25 422.10,286.85 422.35,287.26 422.60,287.53 422.85,287.70 423.10,287.81 423.35,287.88 423.60,287.91 423.85,287.94 424.10,287.95 424.35,287.96 424.60,287.96 424.85,287.96 425.10,287.96 425.35,287.96 425.60,287.95 425.85,287.94 426.10,287.90 426.35,287.84 426.60,287.72 426.85,287.52 427.10,287.21 427.35,286.72 427.60,286.00 427.85,284.98 428.10,283.63 428.35,281.92 428.60,279.86 428.85,277.53 429.10,275.06 429.35,272.64 429.60,270.47 429.85,268.79 430.10,267.76 430.35,267.52 430.60,268.04 430.85,269.26 431.10,271.04 431.35,273.21 431.60,275.58 431.85,277.94 432.10,280.15 432.35,282.10 432.60,283.73 432.85,285.03 433.10,286.01 433.35,286.71 433.60,287.21 433.85,287.53 434.10,287.74 434.35,287.87 434.60,287.94 434.85,287.99 435.10,288.01 435.35,288.02 435.60,288.03 435.85,288.04 436.10,288.04 436.35,288.04 436.60,288.04 436.85,288.05 437.10,288.05 437.35,288.05 437.60,288.05 437.85,288.05 438.10,288.05 438.35,288.06 438.60,288.06 438.85,288.06 439.10,288.06 439.35,288.06 439.60,288.06 439.85,288.07 440.10,288.07 440.35,288.07 440.60,288.07 440.85,288.07 441.10,288.07 441.35,288.08 441.60,288.08 441.85,288.08 442.10,288.08 442.35,288.08 442.60,288.08 442.85,288.09 443.10,288.09 443.35,288.09 443.60,288.09 443.85,288.09 444.10,288.09 444.35,288.10 444.60,288.10 444.85,288.10 445.10,288.10 445.35,288.10 445.60,288.10 445.85,288.11 446.10,288.11 446.35,288.11 446.60,288.11 446.85,288.11 447.10,288.11 447.35,288.12 447.60,288.12 447.85,288.12 448.10,288.12 448.35,288.12 448.60,288.12 448.85,288.13 449.10,288.13 449.35,288.13 449.60,288.13 449.85,288.13 450.10,288.13 450.35,288.14 450.60,288.14 450.85,288.14 451.10,288.14 451.35,288.14 451.60,288.14 451.85,288.15 452.10,288.15 452.35,288.15 452.60,288.15 452.85,288.15 453.10,288.15 453.35,288.16 453.60,288.16 453.85,288.16 454.10,288.15 454.35,288.15 454.60,288.14 454.85,288.12 455.10,288.07 455.35,288.00 455.60,287.86 455.85,287.63 456.10,287.27 456.35,286.69 456.60,285.81 456.85,284.51 457.10,282.67 457.35,280.13 457.60,276.76 457.85,272.43 458.10,267.09 458.35,260.74 458.60,253.49 458.85,245.58 459.10,237.36 459.35,229.28 459.60,221.85 459.85,215.62 460.10,211.05 460.35,208.51 460.60,208.15 460.85,209.64 461.10,212.73 461.35,217.15 461.60,222.50 461.85,228.29 462.10,234.00 462.35,239.07 462.60,242.94 462.85,245.10 463.10,245.10 463.35,242.59 463.60,237.30 463.85,229.14 464.10,218.17 464.35,204.67 464.60,189.10 464.85,172.16 465.10,154.73 465.35,137.79 465.60,122.44 465.85,109.71 466.10,100.50 466.35,95.50 466.60,95.00 466.85,98.23 467.10,104.81 467.35,114.40 467.60,126.50 467.85,140.52 468.10,155.79 468.35,171.66 468.60,187.52 468.85,202.82 469.10,217.13 469.35,230.14 469.60,241.65 469.85,251.58 470.10,259.94 470.35,266.80 470.60,272.31 470.85,276.63 471.10,279.93 471.35,282.38 471.60,284.14 471.85,285.34 472.10,286.10 472.35,286.51 472.60,286.63 472.85,286.51 473.10,286.20 473.35,285.73 473.60,285.13 473.85,284.45 474.10,283.73 474.35,283.02 474.60,282.36 474.85,281.81 475.10,281.41 475.35,281.20 475.60,281.18 475.85,281.38 476.10,281.76 476.35,282.30 476.60,282.97 476.85,283.70 477.10,284.47 477.35,285.21 477.60,285.91 477.85,286.54 478.10,287.07 478.35,287.52 478.60,287.87 478.85,288.15 479.10,288.35 479.35,288.50 479.60,288.61 479.85,288.68 480.10,288.73 480.35,288.76 480.60,288.78 480.85,288.79 481.10,288.80 481.35,288.80 481.60,288.81 481.85,288.81 482.10,288.81 482.35,288.81 482.60,288.82 482.85,288.82 483.10,288.82 483.35,288.82 483.60,288.82 483.85,288.82 484.10,288.82 484.35,288.83 484.60,288.83 484.85,288.83 485.10,288.83 485.35,288.83 485.60,288.83 485.85,288.83 486.10,288.84 486.35,288.84 486.60,288.84 486.85,288.84 487.10,288.84 487.35,288.84 487.60,288.84 487.85,288.85 488.10,288.85 488.35,288.85 488.60,288.85 488.85,288.85 489.10,288.85 489.35,288.85 489.60,288.86 489.85,288.86 490.10,288.86 490.35,288.86 490.60,288.86 490.85,288.86 491.10,288.86 491.35,288.87 491.60,288.87 491.85,288.87 492.10,288.87 492.35,288.87 492.60,288.87 492.85,288.87 493.10,288.88 493.35,288.88 493.60,288.88 493.85,288.88 494.10,288.88 494.35,288.88 494.60,288.88 494.85,288.87 495.10,288.86 495.35,288.84 495.60,288.81 495.85,288.75 496.10,288.66 496.35,288.51 496.60,288.28 496.85,287.93 497.10,287.44 497.35,286.75 497.60,285.83 497.85,284.62 498.10,283.11 498.35,281.27 498.60,279.13 498.85,276.72 499.10,274.14 499.35,271.49 499.60,268.93 499.85,266.61 500.10,264.68 500.35,263.29 500.60,262.53 500.85,262.41 501.10,262.76 501.35,263.52 501.60,264.64 501.85,266.03 502.10,267.59 502.35,269.25 502.60,270.89 502.85,272.45 503.10,273.87 503.35,275.09 503.60,276.11 503.85,276.91 504.10,277.53 504.35,277.99 504.60,278.32 504.85,278.59 505.10,278.81 505.35,279.05 505.60,279.32 505.85,279.63 506.10,279.99 506.35,280.41 506.60,280.89 506.85,281.43 507.10,282.00 507.35,282.61 507.60,283.24 507.85,283.87 508.10,284.48 508.35,285.07 508.60,285.63 508.85,286.14 509.10,286.61 509.35,287.02 509.60,287.39 509.85,287.70 510.10,287.96 510.35,288.18 510.60,288.37 510.85,288.51 511.10,288.63 511.35,288.72 511.60,288.79 511.85,288.85 512.10,288.89 512.35,288.92 512.60,288.94 512.85,288.96 513.10,288.97 513.35,288.98 513.60,288.98 513.85,288.98 514.10,288.97 514.35,288.94 514.60,288.90 514.85,288.83 515.10,288.71 515.35,288.51 515.60,288.21 515.85,287.76 516.10,287.10 516.35,286.17 516.60,284.90 516.85,283.23 517.10,281.10 517.35,278.48 517.60,275.38 517.85,271.84 518.10,267.98 518.35,263.95 518.60,259.98 518.85,256.30 519.10,253.15 519.35,250.79 519.60,249.38 519.85,249.05 520.10,249.65 520.35,251.07 520.60,253.23 520.85,255.98 521.10,259.18 521.35,262.64 521.60,266.21 521.85,269.71 522.10,273.03 522.35,276.06 522.60,278.75 522.85,281.05 523.10,282.97 523.35,284.53 523.60,285.77 523.85,286.71 524.10,287.43 524.35,287.95 524.60,288.32 524.85,288.58 525.10,288.75 525.35,288.87 525.60,288.95 525.85,289.00 526.10,289.03 526.35,289.05 526.60,289.06 526.85,289.07 527.10,289.07 527.35,289.07 527.60,289.08 527.85,289.08 528.10,289.08 528.35,289.08 528.60,289.08 528.85,289.08 529.10,289.09 529.35,289.09 529.60,289.09 529.85,289.09 530.10,289.09 530.35,289.09 530.60,289.10 530.85,289.10 531.10,289.10 531.35,289.10 531.60,289.10 531.85,289.10 532.10,289.10 532.35,289.11 532.60,289.11 532.85,289.11 533.10,289.11 533.35,289.11 533.60,289.11 533.85,289.11 534.10,289.12 534.35,289.12 534.60,289.12 534.85,289.12 535.10,289.12 535.35,289.12 535.60,289.12 535.85,289.13 536.10,289.13 536.35,289.13 536.60,289.13 536.85,289.13 537.10,289.13 537.35,289.13 537.60,289.14 537.85,289.14 538.10,289.14 538.35,289.14 538.60,289.14 538.85,289.14 539.10,289.14 539.35,289.15 539.60,289.15 539.85,289.15 540.10,289.15 540.35,289.15 540.60,289.14 540.85,289.14 541.10,289.13 541.35,289.10 541.60,289.07 541.85,289.00 542.10,288.90 542.35,288.75 542.60,288.51 542.85,288.17 543.10,287.67 543.35,286.99 543.60,286.06 543.85,284.84 544.10,283.30 544.35,281.39 544.60,279.11 544.85,276.48 545.10,273.54 545.35,270.37 545.60,267.11 545.85,263.89 546.10,260.88 546.35,258.25 546.60,256.16 546.85,254.73 547.10,254.04 547.35,254.01 547.60,254.54 547.85,255.56 548.10,256.99 548.35,258.72 548.60,260.63 548.85,262.60 549.10,264.54 549.35,266.34 549.60,267.97 549.85,269.37 550.10,270.56 550.35,271.53 550.60,272.33 550.85,273.00 551.10,273.59 551.35,274.16 551.60,274.74 551.85,275.32 552.10,275.94 552.35,276.60 552.60,277.31 552.85,278.08 553.10,278.89 553.35,279.74 553.60,280.61 553.85,281.49 554.10,282.35 554.35,283.19 554.60,283.98 554.85,284.72 555.10,285.40 555.35,286.01 555.60,286.54 555.85,286.99 556.10,287.37 556.35,287.66 556.60,287.86 556.85,287.98 557.10,288.01 557.35,287.93 557.60,287.75 557.85,287.46 558.10,287.05 558.35,286.53 558.60,285.89 558.85,285.14 559.10,284.31 559.35,283.42 559.60,282.50 559.85,281.59 560.10,280.74 560.35,279.99 560.60,279.40 560.85,278.99 561.10,278.79 561.35,278.81 561.60,279.01 561.85,279.37 562.10,279.89 562.35,280.54 562.60,281.28 562.85,282.08 563.10,282.92 563.35,283.75 563.60,284.56 563.85,285.32 564.10,286.01 564.35,286.64 564.60,287.18 564.85,287.64 565.10,288.02 565.35,288.33 565.60,288.58 565.85,288.78 566.10,288.92 566.35,289.04 566.60,289.12 566.85,289.18 567.10,289.22 567.35,289.25 567.60,289.27 567.85,289.29 568.10,289.30 568.35,289.31 568.60,289.31 568.85,289.31 569.10,289.32 569.35,289.32 569.60,289.32 569.85,289.31 570.10,289.31 570.35,289.31 570.60,289.30 570.85,289.29 571.10,289.27 571.35,289.25 571.60,289.22 571.85,289.19 572.10,289.14 572.35,289.08 572.60,289.01 572.85,288.93 573.10,288.83 573.35,288.72 573.60,288.60 573.85,288.46 574.10,288.32 574.35,288.17 574.60,288.02 574.85,287.87 575.10,287.74 575.35,287.61 575.60,287.51 575.85,287.43 576.10,287.38 576.35,287.36 576.60,287.37 576.85,287.41 577.10,287.48 577.35,287.58 577.60,287.69 577.85,287.82 578.10,287.97 578.35,288.11 578.60,288.25 578.85,288.38 579.10,288.50 579.35,288.59 579.60,288.66 579.85,288.70 580.10,288.69 580.35,288.65 580.60,288.56 580.85,288.42 581.10,288.23 581.35,287.99 581.60,287.70 581.85,287.37 582.10,286.99 582.35,286.59 582.60,286.18 582.85,285.77 583.10,285.39 583.35,285.05 583.60,284.76 583.85,284.55 584.10,284.43 584.35,284.40 584.60,284.46 584.85,284.61 585.10,284.84 585.35,285.13 585.60,285.46 585.85,285.81 586.10,286.15 586.35,286.47 586.60,286.73 586.85,286.91 587.10,287.00 587.35,286.98 587.60,286.84 587.85,286.56 588.10,286.15 588.35,285.61 588.60,284.95 588.85,284.19 589.10,283.36 589.35,282.48 589.60,281.60 589.85,280.75 590.10,279.99 590.35,279.34 590.60,278.85 590.85,278.55 591.10,278.44 591.35,278.53 591.60,278.79 591.85,279.20 592.10,279.75 592.35,280.41 592.60,281.15 592.85,281.96 593.10,282.79 593.35,283.62 593.60,284.43 593.85,285.19 594.10,285.89 594.35,286.53 594.60,287.09 594.85,287.57 595.10,287.98 595.35,288.32 595.60,288.60 595.85,288.82 596.10,288.99 596.35,289.13 596.60,289.23 596.85,289.31 597.10,289.36 597.35,289.40 597.60,289.43 597.85,289.45 598.10,289.46 598.35,289.47 598.60,289.48 598.85,289.49 599.10,289.49 599.35,289.49 599.60,289.50 599.85,289.50 600.10,289.50 600.35,289.50 600.60,289.50 600.85,289.51 601.10,289.51 601.35,289.51 601.60,289.51 601.85,289.51 602.10,289.52 602.35,289.52 602.60,289.52 602.85,289.52 603.10,289.52 603.35,289.53 603.60,289.53 603.85,289.53 604.10,289.53 604.35,289.53 604.60,289.54 604.85,289.54 605.10,289.54 605.35,289.54 605.60,289.54 605.85,289.55 606.10,289.55 606.35,289.55 606.60,289.55 606.85,289.55 607.10,289.56 607.35,289.56 607.60,289.56 607.85,289.56 608.10,289.56 608.35,289.57 608.60,289.57 608.85,289.57 609.10,289.57 609.35,289.57 609.60,289.58 609.85,289.58 610.10,289.58 610.35,289.58 610.60,289.58 610.85,289.59 611.10,289.59 611.35,289.59 611.60,289.59 611.85,289.59 612.10,289.60 612.35,289.60 612.60,289.60 612.85,289.60 613.10,289.60 613.35,289.61 613.60,289.61 613.85,289.61 614.10,289.61 614.35,289.61 614.60,289.62 614.85,289.62 615.10,289.62 615.35,289.62 615.60,289.62 615.85,289.63 616.10,289.63 616.35,289.63 616.60,289.63 616.85,289.63 617.10,289.64 617.35,289.64 617.60,289.64 617.85,289.64 618.10,289.64 618.35,289.65 618.60,289.65 618.85,289.65 619.10,289.65 619.35,289.65 619.60,289.66 619.85,289.66 620.10,289.66 620.35,289.66 620.60,289.66 620.85,289.65 621.10,289.65 621.35,289.64 621.60,289.62 621.85,289.59 622.10,289.55 622.35,289.48 622.60,289.39 622.85,289.27 623.10,289.09 623.35,288.85 623.60,288.53 623.85,288.11 624.10,287.57 624.35,286.89 624.60,286.04 624.85,285.01 625.10,283.79 625.35,282.35 625.60,280.71 625.85,278.87 626.10,276.86 626.35,274.70 626.60,272.46 626.85,270.18 627.10,267.93 627.35,265.80 627.60,263.87 627.85,262.20 628.10,260.86 628.35,259.92 628.60,259.41 628.85,259.32 629.10,259.53 629.35,260.02 629.60,260.77 629.85,261.76 630.10,262.96 630.35,264.32 630.60,265.83 630.85,267.43 631.10,269.10 631.35,270.78 631.60,272.46 631.85,274.09 632.10,275.67 632.35,277.16 632.60,278.55 632.85,279.83 633.10,281.00 633.35,282.05 633.60,283.00 633.85,283.83 634.10,284.57 634.35,285.22 634.60,285.79 634.85,286.28 635.10,286.71 635.35,287.09 635.60,287.41 635.85,287.70 636.10,287.95 636.35,288.18 636.60,288.38 636.85,288.55 637.10,288.71 637.35,288.85 637.60,288.98 637.85,289.09 638.10,289.19 638.35,289.28 638.60,289.36 638.85,289.43 639.10,289.49 639.35,289.55 639.60,289.59 639.85,289.63 640.10,289.67 640.35,289.70 640.60,289.72 640.85,289.75 641.10,289.76 641.35,289.78 641.60,289.79 641.85,289.80 642.10,289.81 642.35,289.82 642.60,289.83 642.85,289.83 643.10,289.84 643.35,289.84 643.60,289.84 643.85,289.85 644.10,289.85 644.35,289.85 644.60,289.86 644.85,289.86 645.10,289.86 645.35,289.86 645.60,289.86 645.85,289.87 646.10,289.87 646.35,289.87 646.60,289.87 646.85,289.88 647.10,289.88 647.35,289.88 647.60,289.88 647.85,289.88 648.10,289.89 648.35,289.89 648.60,289.89 648.85,289.89 649.10,289.89 649.35,289.90 649.60,289.90 649.85,289.90 650.10,289.90 650.35,289.90 650.60,289.91 650.85,289.91 651.10,289.91 651.35,289.91 651.60,289.91 651.85,289.92 652.10,289.92 652.35,289.92 652.60,289.92 652.85,289.92 653.10,289.93 653.35,289.93 653.60,289.93 653.85,289.93 654.10,289.93 654.35,289.94 654.60,289.94 654.85,289.94 655.10,289.94 655.35,289.94 655.60,289.95 655.85,289.95 656.10,289.95 656.35,289.95 656.60,289.95 656.85,289.95 657.10,289.95 657.35,289.95 657.60,289.95 657.85,289.95 658.10,289.94 658.35,289.93 658.60,289.91 658.85,289.88 659.10,289.85 659.35,289.79 659.60,289.72 659.85,289.62 660.10,289.49 660.35,289.32 660.60,289.11 660.85,288.85 661.10,288.54 661.35,288.17 661.60,287.75 661.85,287.27 662.10,286.76 662.35,286.20 662.60,285.63 662.85,285.07 663.10,284.52 663.35,284.01 663.60,283.57 663.85,283.22 664.10,282.97 664.35,282.84 664.60,282.82 664.85,282.88 665.10,283.01 665.35,283.20 665.60,283.44 665.85,283.74 666.10,284.07 666.35,284.44 666.60,284.84 666.85,285.25 667.10,285.67 667.35,286.09 667.60,286.50 667.85,286.90 668.10,287.28 668.35,287.64 668.60,287.97 668.85,288.28 669.10,288.55 669.35,288.79 669.60,289.01 669.85,289.19 670.10,289.35 670.35,289.49 670.60,289.61 670.85,289.70 671.10,289.78 671.35,289.85 671.60,289.90 671.85,289.94 672.10,289.98 672.35,290.00 672.60,290.03 672.85,290.04 673.10,290.06 673.35,290.07 673.60,290.07 673.85,290.08 674.10,290.09 674.35,290.09 674.60,290.09 674.85,290.10 675.10,290.10 675.35,290.10 675.60,290.10 675.85,290.11 676.10,290.11 676.35,290.11 676.60,290.11 676.85,290.12 677.10,290.12 677.35,290.12 677.60,290.12 677.85,290.12 678.10,290.13 678.35,290.13 678.60,290.13 678.85,290.13 679.10,290.13 679.35,290.14 679.60,290.14 679.85,290.14 680.10,290.14 680.35,290.14 680.60,290.15 680.85,290.15 681.10,290.15 681.35,290.15 681.60,290.15 681.85,290.16 682.10,290.16 682.35,290.16 682.60,290.16 682.85,290.16 683.10,290.17 683.35,290.17 683.60,290.17 683.85,290.17 684.10,290.17 684.35,290.18 684.60,290.18 684.85,290.18 685.10,290.18 685.35,290.18 685.60,290.18 685.85,290.18 686.10,290.18 686.35,290.18 686.60,290.18 686.85,290.17 687.10,290.16 687.35,290.15 687.60,290.13 687.85,290.10 688.10,290.06 688.35,290.01 688.60,289.94 688.85,289.85 689.10,289.74 689.35,289.60 689.60,289.43 689.85,289.23 690.10,288.99 690.35,288.72 690.60,288.42 690.85,288.10 691.10,287.75 691.35,287.39 691.60,287.03 691.85,286.68 692.10,286.35 692.35,286.06 692.60,285.81 692.85,285.62 693.10,285.50 693.35,285.45 693.60,285.46 693.85,285.51 694.10,285.60 694.35,285.72 694.60,285.88 694.85,286.06 695.10,286.27 695.35,286.50 695.60,286.74 695.85,286.99 696.10,287.25 696.35,287.52 696.60,287.78 696.85,288.03 697.10,288.27 697.35,288.51 697.60,288.72 697.85,288.93 698.10,289.11 698.35,289.28 698.60,289.43 698.85,289.57 699.10,289.69 699.35,289.79 699.60,289.88 699.85,289.96 700.10,290.03 700.35,290.08 700.60,290.13 700.85,290.17 701.10,290.20 701.35,290.23 701.60,290.25 701.85,290.27 702.10,290.28 702.35,290.29 702.60,290.30 702.85,290.31 703.10,290.31 703.35,290.32 703.60,290.32 703.85,290.33 704.10,290.33 704.35,290.33 704.60,290.34 704.85,290.34 705.10,290.34 705.35,290.34 705.60,290.35 705.85,290.35 706.10,290.35 706.35,290.35 706.60,290.35 706.85,290.36 707.10,290.36 707.35,290.36 707.60,290.36 707.85,290.36 708.10,290.37 708.35,290.37 708.60,290.37 708.85,290.37 709.10,290.37 709.35,290.38 709.60,290.38 709.85,290.38 710.10,290.38 710.35,290.38 710.60,290.39 710.85,290.39 711.10,290.39 711.35,290.39 711.60,290.39 711.85,290.40 712.10,290.40 712.35,290.40 712.60,290.40 712.85,290.40 713.10,290.41 713.35,290.41 713.60,290.41 713.85,290.41 714.10,290.41 714.35,290.42 714.60,290.42 714.85,290.42 715.10,290.42 715.35,290.42 715.60,290.43 715.85,290.43 716.10,290.43 716.35,290.43 716.60,290.43 716.85,290.44 717.10,290.44 717.35,290.44 717.60,290.44 717.85,290.44 718.10,290.45 718.35,290.45 718.60,290.45 718.85,290.45 719.10,290.45 719.35,290.46 719.60,290.46 719.85,290.46 720.10,290.46 720.35,290.46 720.60,290.47 720.85,290.47 721.10,290.47 721.35,290.47 721.60,290.47 721.85,290.48 722.10,290.48 722.35,290.48 722.60,290.48 722.85,290.48 723.10,290.49 723.35,290.49 723.60,290.49 723.85,290.49 724.10,290.49 724.35,290.50 724.60,290.50 724.85,290.50 725.10,290.50 725.35,290.50 725.60,290.51 725.85,290.51 726.10,290.51 726.35,290.51 726.60,290.51 726.85,290.52 727.10,290.52 727.35,290.52 727.60,290.52 727.85,290.52 728.10,290.53 728.35,290.53 728.60,290.53 728.85,290.53 729.10,290.53 729.35,290.54 729.60,290.54 729.85,290.54 730.10,290.54 730.35,290.54 730.60,290.55 730.85,290.55 731.10,290.55 731.35,290.55 731.60,290.55 731.85,290.56 732.10,290.56 732.35,290.56 732.60,290.56 732.85,290.56 733.10,290.57 733.35,290.57 733.60,290.57 733.85,290.57 734.10,290.57 734.35,290.58 734.60,290.58 734.85,290.58 735.10,290.58 735.35,290.58 735.60,290.59 735.85,290.59 736.10,290.59 736.35,290.59 736.60,290.59 736.85,290.60 737.10,290.60" fill="none" stroke="#1c1c1c" stroke-width="1.1" stroke-linejoin="round"/>
<text transform="translate(208.40,241.00) rotate(-90) scale(1.06,1)" font-size="12.5" font-weight="normal" fill="#1a1a1a">(3,3,0,0,0)</text>
<text transform="translate(258.40,137.60) rotate(-90) scale(1.06,1)" font-size="12.5" font-weight="normal" fill="#1a1a1a">(3,3,1,0,0)</text>
<text transform="translate(273.80,201.40) rotate(-90) scale(1.06,1)" font-size="12.5" font-weight="normal" fill="#1a1a1a">(4,3,0,0,0)</text>
<text transform="translate(316.60,71.90) rotate(-90) scale(1.06,1)" font-size="12.5" font-weight="normal" fill="#1a1a1a">(4,3,1,0,0)</text>
<text transform="translate(332.80,108.00) rotate(-90) scale(1.06,1)" font-size="12.5" font-weight="normal" fill="#1a1a1a">(2,5,0,0,0)</text>
<text transform="translate(349.60,125.80) rotate(-90) scale(1.06,1)" font-size="12.5" font-weight="normal" fill="#1a1a1a">(3,4,1,0,0)</text>
<text transform="translate(362.10,269.50) rotate(-90) scale(1.06,1)" font-size="12.5" font-weight="normal" fill="#1a1a1a">(4,4,0,0,0)</text>
<text transform="translate(368.90,182.50) rotate(-90) scale(1.06,1)" font-size="12.5" font-weight="normal" fill="#1a1a1a">(3,5,0,0,0)</text>
<text transform="translate(375.30,112.80) rotate(-90) scale(1.06,1)" font-size="12.5" font-weight="normal" fill="#1a1a1a">(4,4,1,0,0)</text>
<text transform="translate(422.10,182.60) rotate(-90) scale(1.06,1)" font-size="12.5" font-weight="normal" fill="#1a1a1a">(3,5,1,0,0)</text>
<text transform="translate(458.40,148.00) rotate(-90) scale(1.06,1)" font-size="12.5" font-weight="normal" fill="#1a1a1a">(3,6,0,0,0)</text>
<text transform="translate(481.10,132.30) rotate(-90) scale(1.06,1)" font-size="12.5" font-weight="normal" fill="#1a1a1a">(4,5,1,0,0)</text>
<line x1="375.80" y1="160.50" x2="375.80" y2="212.20" stroke="#111" stroke-width="1.35"/>
<polyline points="372.40,206.40 375.80,213.20 379.20,206.40" fill="none" stroke="#111" stroke-width="1.35" stroke-linejoin="round" stroke-linecap="round"/>
<line x1="418.10" y1="190.00" x2="418.10" y2="241.60" stroke="#111" stroke-width="1.8"/>
<polyline points="414.20,236.00 418.10,242.60 422.00,236.00" fill="none" stroke="#111" stroke-width="1.8" stroke-linejoin="round" stroke-linecap="round"/>
<line x1="459.30" y1="154.80" x2="459.30" y2="207.10" stroke="#111" stroke-width="1.8"/>
<polyline points="455.40,201.50 459.30,208.10 463.20,201.50" fill="none" stroke="#111" stroke-width="1.8" stroke-linejoin="round" stroke-linecap="round"/>
<path d="M376.3,123.7 L376.3,120.5 Q376.3,118.5 378.3,118.5 L397.2,118.5 Q399.2,118.5 399.2,120.5 L399.2,123.7 M387.7,118.5 L387.7,113.3" fill="none" stroke="#111" stroke-width="1.4"/>
<line x1="493.80" y1="-0.10" x2="493.80" y2="216.64" stroke="#3a3a3a" stroke-width="1.3"/>
<line x1="589.10" y1="-0.10" x2="589.10" y2="216.64" stroke="#3a3a3a" stroke-width="1.3"/>
<line x1="698.80" y1="-0.10" x2="698.80" y2="216.64" stroke="#3a3a3a" stroke-width="1.3"/>
<line x1="767.30" y1="-0.10" x2="767.30" y2="216.64" stroke="#3a3a3a" stroke-width="1.3"/>
<line x1="493.20" y1="0.50" x2="767.90" y2="0.50" stroke="#3a3a3a" stroke-width="1.3"/>
<line x1="493.20" y1="45.80" x2="767.90" y2="45.80" stroke="#3a3a3a" stroke-width="1.3"/>
<line x1="493.20" y1="67.08" x2="767.90" y2="67.08" stroke="#3a3a3a" stroke-width="1.3"/>
<line x1="493.20" y1="88.36" x2="767.90" y2="88.36" stroke="#3a3a3a" stroke-width="1.3"/>
<line x1="493.20" y1="109.64" x2="767.90" y2="109.64" stroke="#3a3a3a" stroke-width="1.3"/>
<line x1="493.20" y1="130.92" x2="767.90" y2="130.92" stroke="#3a3a3a" stroke-width="1.3"/>
<line x1="493.20" y1="152.20" x2="767.90" y2="152.20" stroke="#3a3a3a" stroke-width="1.3"/>
<line x1="493.20" y1="173.48" x2="767.90" y2="173.48" stroke="#3a3a3a" stroke-width="1.3"/>
<line x1="493.20" y1="194.76" x2="767.90" y2="194.76" stroke="#3a3a3a" stroke-width="1.3"/>
<line x1="493.20" y1="216.04" x2="767.90" y2="216.04" stroke="#3a3a3a" stroke-width="1.3"/>
<text x="505.00" y="14.60" font-size="10" font-weight="bold" text-anchor="start" fill="#111" >Obs avg glycan</text>
<text x="505.00" y="26.70" font-size="10" font-weight="bold" text-anchor="start" fill="#111" >mass (Da)</text>
<text x="600.00" y="14.60" font-size="10" font-weight="bold" text-anchor="start" fill="#111" >Composition</text>
<text x="600.00" y="26.70" font-size="10" font-weight="bold" text-anchor="start" fill="#111" >(HexNAc, Hex, Fuc,</text>
<text x="600.00" y="38.80" font-size="10" font-weight="bold" text-anchor="start" fill="#111" >NeuAc, NeuGc)</text>
<text x="710.00" y="14.60" font-size="10" font-weight="bold" text-anchor="start" fill="#111" >Remicade</text>
<text x="710.00" y="26.70" font-size="10" font-weight="bold" text-anchor="start" fill="#111" >(%)</text>
<text x="505.00" y="60.10" font-size="10" font-weight="normal" text-anchor="start" fill="#1a1a1a" >1,026.8757</text>
<text x="600.00" y="60.10" font-size="10" font-weight="normal" text-anchor="start" fill="#1a1a1a" >(4.5.0.1.0)</text>
<text x="710.00" y="60.10" font-size="10" font-weight="normal" text-anchor="start" fill="#1a1a1a" >0.61%</text>
<text x="505.00" y="81.38" font-size="10" font-weight="normal" text-anchor="start" fill="#1a1a1a" >1,035.38496</text>
<text x="600.00" y="81.38" font-size="10" font-weight="normal" text-anchor="start" fill="#1a1a1a" >(4.6.1.0.0)</text>
<text x="710.00" y="81.38" font-size="10" font-weight="normal" text-anchor="start" fill="#1a1a1a" >1.31%</text>
<text x="505.00" y="102.66" font-size="10" font-weight="normal" text-anchor="start" fill="#1a1a1a" >1,006.3773</text>
<text x="600.00" y="102.66" font-size="10" font-weight="normal" text-anchor="start" fill="#1a1a1a" >(3.6.0.1.0)</text>
<text x="710.00" y="102.66" font-size="10" font-weight="normal" text-anchor="start" fill="#1a1a1a" >0.63%</text>
<text x="505.00" y="123.94" font-size="10" font-weight="normal" text-anchor="start" fill="#1a1a1a" >1,014.8927</text>
<text x="600.00" y="123.94" font-size="10" font-weight="normal" text-anchor="start" fill="#1a1a1a" >(3.7.1.0.0)</text>
<text x="710.00" y="123.94" font-size="10" font-weight="normal" text-anchor="start" fill="#1a1a1a" >0.16%</text>
<text x="505.00" y="145.22" font-size="10" font-weight="normal" text-anchor="start" fill="#1a1a1a" >1,107.9052</text>
<text x="600.00" y="145.22" font-size="10" font-weight="normal" text-anchor="start" fill="#1a1a1a" >(4.4.0.0.2)</text>
<text x="710.00" y="145.22" font-size="10" font-weight="normal" text-anchor="start" fill="#1a1a1a" >0.17%</text>
<text x="505.00" y="166.50" font-size="10" font-weight="normal" text-anchor="start" fill="#1a1a1a" >1,116.428</text>
<text x="600.00" y="166.50" font-size="10" font-weight="normal" text-anchor="start" fill="#1a1a1a" >(4.6.0.0.1)</text>
<text x="710.00" y="166.50" font-size="10" font-weight="normal" text-anchor="start" fill="#1a1a1a" >0.18%</text>
<text x="505.00" y="187.78" font-size="10" font-weight="normal" text-anchor="start" fill="#1a1a1a" >1,087.3999</text>
<text x="600.00" y="187.78" font-size="10" font-weight="normal" text-anchor="start" fill="#1a1a1a" >(3.6.1.0.1)</text>
<text x="710.00" y="187.78" font-size="10" font-weight="normal" text-anchor="start" fill="#1a1a1a" >0.35%</text>
<text x="505.00" y="209.06" font-size="10" font-weight="normal" text-anchor="start" fill="#1a1a1a" >1,188.9283</text>
<text x="600.00" y="209.06" font-size="10" font-weight="normal" text-anchor="start" fill="#1a1a1a" >(4.5.0.0.2)</text>
<text x="710.00" y="209.06" font-size="10" font-weight="normal" text-anchor="start" fill="#1a1a1a" >0.27%</text>
<path d="M490.2,250.2 L490.4,241 Q490.8,235.5 494.5,235.5 L597.5,235.5 Q600.0,235.3 600.5,224.6 Q601.0,235.3 603.5,235.5 L707.0,235.5 Q710.8,235.5 711.0,241 L711.2,250.2" fill="none" stroke="#1a1a1a" stroke-width="1.4"/>
<text x="0.90" y="372.10" font-size="20.0" font-weight="bold" text-anchor="start" fill="#000" >B</text>
<text transform="translate(14.7,523.5) rotate(-90) scale(1.065,1)" font-size="15.6" font-weight="bold" fill="#111">EU×10<tspan font-size="9.5" dy="-6.3">4</tspan></text>
<text transform="translate(83.40,428.70) scale(1.05,1)" font-size="12.5" font-weight="normal" text-anchor="end" fill="#1a1a1a" >9,000,000</text>
<text transform="translate(83.40,445.30) scale(1.05,1)" font-size="12.5" font-weight="normal" text-anchor="end" fill="#1a1a1a" >8,000,000</text>
<text transform="translate(83.40,461.90) scale(1.05,1)" font-size="12.5" font-weight="normal" text-anchor="end" fill="#1a1a1a" >7,000,000</text>
<text transform="translate(83.40,478.50) scale(1.05,1)" font-size="12.5" font-weight="normal" text-anchor="end" fill="#1a1a1a" >6,000,000</text>
<text transform="translate(83.40,495.10) scale(1.05,1)" font-size="12.5" font-weight="normal" text-anchor="end" fill="#1a1a1a" >5,000,000</text>
<text transform="translate(83.40,511.70) scale(1.05,1)" font-size="12.5" font-weight="normal" text-anchor="end" fill="#1a1a1a" >4,000,000</text>
<text transform="translate(83.40,528.30) scale(1.05,1)" font-size="12.5" font-weight="normal" text-anchor="end" fill="#1a1a1a" >3,000,000</text>
<text transform="translate(83.40,544.90) scale(1.05,1)" font-size="12.5" font-weight="normal" text-anchor="end" fill="#1a1a1a" >2,000,000</text>
<text transform="translate(83.40,561.50) scale(1.05,1)" font-size="12.5" font-weight="normal" text-anchor="end" fill="#1a1a1a" >1,000,000</text>
<text transform="translate(83.40,578.10) scale(1.05,1)" font-size="12.5" font-weight="normal" text-anchor="end" fill="#1a1a1a" >0</text>
<line x1="88.30" y1="424.10" x2="91.50" y2="424.10" stroke="#333" stroke-width="1.1"/>
<line x1="89.40" y1="427.42" x2="91.50" y2="427.42" stroke="#666" stroke-width="0.9"/>
<line x1="89.40" y1="430.74" x2="91.50" y2="430.74" stroke="#666" stroke-width="0.9"/>
<line x1="89.40" y1="434.06" x2="91.50" y2="434.06" stroke="#666" stroke-width="0.9"/>
<line x1="89.40" y1="437.38" x2="91.50" y2="437.38" stroke="#666" stroke-width="0.9"/>
<line x1="88.30" y1="440.70" x2="91.50" y2="440.70" stroke="#333" stroke-width="1.1"/>
<line x1="89.40" y1="444.02" x2="91.50" y2="444.02" stroke="#666" stroke-width="0.9"/>
<line x1="89.40" y1="447.34" x2="91.50" y2="447.34" stroke="#666" stroke-width="0.9"/>
<line x1="89.40" y1="450.66" x2="91.50" y2="450.66" stroke="#666" stroke-width="0.9"/>
<line x1="89.40" y1="453.98" x2="91.50" y2="453.98" stroke="#666" stroke-width="0.9"/>
<line x1="88.30" y1="457.30" x2="91.50" y2="457.30" stroke="#333" stroke-width="1.1"/>
<line x1="89.40" y1="460.62" x2="91.50" y2="460.62" stroke="#666" stroke-width="0.9"/>
<line x1="89.40" y1="463.94" x2="91.50" y2="463.94" stroke="#666" stroke-width="0.9"/>
<line x1="89.40" y1="467.26" x2="91.50" y2="467.26" stroke="#666" stroke-width="0.9"/>
<line x1="89.40" y1="470.58" x2="91.50" y2="470.58" stroke="#666" stroke-width="0.9"/>
<line x1="88.30" y1="473.90" x2="91.50" y2="473.90" stroke="#333" stroke-width="1.1"/>
<line x1="89.40" y1="477.22" x2="91.50" y2="477.22" stroke="#666" stroke-width="0.9"/>
<line x1="89.40" y1="480.54" x2="91.50" y2="480.54" stroke="#666" stroke-width="0.9"/>
<line x1="89.40" y1="483.86" x2="91.50" y2="483.86" stroke="#666" stroke-width="0.9"/>
<line x1="89.40" y1="487.18" x2="91.50" y2="487.18" stroke="#666" stroke-width="0.9"/>
<line x1="88.30" y1="490.50" x2="91.50" y2="490.50" stroke="#333" stroke-width="1.1"/>
<line x1="89.40" y1="493.82" x2="91.50" y2="493.82" stroke="#666" stroke-width="0.9"/>
<line x1="89.40" y1="497.14" x2="91.50" y2="497.14" stroke="#666" stroke-width="0.9"/>
<line x1="89.40" y1="500.46" x2="91.50" y2="500.46" stroke="#666" stroke-width="0.9"/>
<line x1="89.40" y1="503.78" x2="91.50" y2="503.78" stroke="#666" stroke-width="0.9"/>
<line x1="88.30" y1="507.10" x2="91.50" y2="507.10" stroke="#333" stroke-width="1.1"/>
<line x1="89.40" y1="510.42" x2="91.50" y2="510.42" stroke="#666" stroke-width="0.9"/>
<line x1="89.40" y1="513.74" x2="91.50" y2="513.74" stroke="#666" stroke-width="0.9"/>
<line x1="89.40" y1="517.06" x2="91.50" y2="517.06" stroke="#666" stroke-width="0.9"/>
<line x1="89.40" y1="520.38" x2="91.50" y2="520.38" stroke="#666" stroke-width="0.9"/>
<line x1="88.30" y1="523.70" x2="91.50" y2="523.70" stroke="#333" stroke-width="1.1"/>
<line x1="89.40" y1="527.02" x2="91.50" y2="527.02" stroke="#666" stroke-width="0.9"/>
<line x1="89.40" y1="530.34" x2="91.50" y2="530.34" stroke="#666" stroke-width="0.9"/>
<line x1="89.40" y1="533.66" x2="91.50" y2="533.66" stroke="#666" stroke-width="0.9"/>
<line x1="89.40" y1="536.98" x2="91.50" y2="536.98" stroke="#666" stroke-width="0.9"/>
<line x1="88.30" y1="540.30" x2="91.50" y2="540.30" stroke="#333" stroke-width="1.1"/>
<line x1="89.40" y1="543.62" x2="91.50" y2="543.62" stroke="#666" stroke-width="0.9"/>
<line x1="89.40" y1="546.94" x2="91.50" y2="546.94" stroke="#666" stroke-width="0.9"/>
<line x1="89.40" y1="550.26" x2="91.50" y2="550.26" stroke="#666" stroke-width="0.9"/>
<line x1="89.40" y1="553.58" x2="91.50" y2="553.58" stroke="#666" stroke-width="0.9"/>
<line x1="88.30" y1="556.90" x2="91.50" y2="556.90" stroke="#333" stroke-width="1.1"/>
<line x1="89.40" y1="560.22" x2="91.50" y2="560.22" stroke="#666" stroke-width="0.9"/>
<line x1="89.40" y1="563.54" x2="91.50" y2="563.54" stroke="#666" stroke-width="0.9"/>
<line x1="89.40" y1="566.86" x2="91.50" y2="566.86" stroke="#666" stroke-width="0.9"/>
<line x1="89.40" y1="570.18" x2="91.50" y2="570.18" stroke="#666" stroke-width="0.9"/>
<line x1="88.30" y1="573.50" x2="91.50" y2="573.50" stroke="#333" stroke-width="1.1"/>
<line x1="91.50" y1="409.80" x2="91.50" y2="581.90" stroke="#1a1a1a" stroke-width="1.7"/>
<line x1="91.00" y1="581.40" x2="738.00" y2="581.40" stroke="#1a1a1a" stroke-width="1.45"/>
<line x1="91.50" y1="581.40" x2="91.50" y2="583.70" stroke="#333" stroke-width="1.1"/>
<line x1="95.54" y1="581.40" x2="95.54" y2="582.80" stroke="#333" stroke-width="1.1"/>
<line x1="99.58" y1="581.40" x2="99.58" y2="582.80" stroke="#333" stroke-width="1.1"/>
<line x1="103.61" y1="581.40" x2="103.61" y2="582.80" stroke="#333" stroke-width="1.1"/>
<line x1="107.65" y1="581.40" x2="107.65" y2="583.70" stroke="#333" stroke-width="1.1"/>
<line x1="111.69" y1="581.40" x2="111.69" y2="582.80" stroke="#333" stroke-width="1.1"/>
<line x1="115.72" y1="581.40" x2="115.72" y2="582.80" stroke="#333" stroke-width="1.1"/>
<line x1="119.76" y1="581.40" x2="119.76" y2="582.80" stroke="#333" stroke-width="1.1"/>
<line x1="123.80" y1="581.40" x2="123.80" y2="583.70" stroke="#333" stroke-width="1.1"/>
<line x1="127.84" y1="581.40" x2="127.84" y2="582.80" stroke="#333" stroke-width="1.1"/>
<line x1="131.88" y1="581.40" x2="131.88" y2="582.80" stroke="#333" stroke-width="1.1"/>
<line x1="135.91" y1="581.40" x2="135.91" y2="582.80" stroke="#333" stroke-width="1.1"/>
<line x1="139.95" y1="581.40" x2="139.95" y2="583.70" stroke="#333" stroke-width="1.1"/>
<line x1="143.99" y1="581.40" x2="143.99" y2="582.80" stroke="#333" stroke-width="1.1"/>
<line x1="148.03" y1="581.40" x2="148.03" y2="582.80" stroke="#333" stroke-width="1.1"/>
<line x1="152.06" y1="581.40" x2="152.06" y2="582.80" stroke="#333" stroke-width="1.1"/>
<line x1="156.10" y1="581.40" x2="156.10" y2="583.70" stroke="#333" stroke-width="1.1"/>
<line x1="160.14" y1="581.40" x2="160.14" y2="582.80" stroke="#333" stroke-width="1.1"/>
<line x1="164.18" y1="581.40" x2="164.18" y2="582.80" stroke="#333" stroke-width="1.1"/>
<line x1="168.21" y1="581.40" x2="168.21" y2="582.80" stroke="#333" stroke-width="1.1"/>
<line x1="172.25" y1="581.40" x2="172.25" y2="583.70" stroke="#333" stroke-width="1.1"/>
<line x1="176.29" y1="581.40" x2="176.29" y2="582.80" stroke="#333" stroke-width="1.1"/>
<line x1="180.32" y1="581.40" x2="180.32" y2="582.80" stroke="#333" stroke-width="1.1"/>
<line x1="184.36" y1="581.40" x2="184.36" y2="582.80" stroke="#333" stroke-width="1.1"/>
<line x1="188.40" y1="581.40" x2="188.40" y2="583.70" stroke="#333" stroke-width="1.1"/>
<line x1="192.44" y1="581.40" x2="192.44" y2="582.80" stroke="#333" stroke-width="1.1"/>
<line x1="196.47" y1="581.40" x2="196.47" y2="582.80" stroke="#333" stroke-width="1.1"/>
<line x1="200.51" y1="581.40" x2="200.51" y2="582.80" stroke="#333" stroke-width="1.1"/>
<line x1="204.55" y1="581.40" x2="204.55" y2="583.70" stroke="#333" stroke-width="1.1"/>
<line x1="208.59" y1="581.40" x2="208.59" y2="582.80" stroke="#333" stroke-width="1.1"/>
<line x1="212.62" y1="581.40" x2="212.62" y2="582.80" stroke="#333" stroke-width="1.1"/>
<line x1="216.66" y1="581.40" x2="216.66" y2="582.80" stroke="#333" stroke-width="1.1"/>
<line x1="220.70" y1="581.40" x2="220.70" y2="583.70" stroke="#333" stroke-width="1.1"/>
<line x1="224.74" y1="581.40" x2="224.74" y2="582.80" stroke="#333" stroke-width="1.1"/>
<line x1="228.78" y1="581.40" x2="228.78" y2="582.80" stroke="#333" stroke-width="1.1"/>
<line x1="232.81" y1="581.40" x2="232.81" y2="582.80" stroke="#333" stroke-width="1.1"/>
<line x1="236.85" y1="581.40" x2="236.85" y2="583.70" stroke="#333" stroke-width="1.1"/>
<line x1="240.89" y1="581.40" x2="240.89" y2="582.80" stroke="#333" stroke-width="1.1"/>
<line x1="244.93" y1="581.40" x2="244.93" y2="582.80" stroke="#333" stroke-width="1.1"/>
<line x1="248.96" y1="581.40" x2="248.96" y2="582.80" stroke="#333" stroke-width="1.1"/>
<line x1="253.00" y1="581.40" x2="253.00" y2="583.70" stroke="#333" stroke-width="1.1"/>
<line x1="257.04" y1="581.40" x2="257.04" y2="582.80" stroke="#333" stroke-width="1.1"/>
<line x1="261.07" y1="581.40" x2="261.07" y2="582.80" stroke="#333" stroke-width="1.1"/>
<line x1="265.11" y1="581.40" x2="265.11" y2="582.80" stroke="#333" stroke-width="1.1"/>
<line x1="269.15" y1="581.40" x2="269.15" y2="583.70" stroke="#333" stroke-width="1.1"/>
<line x1="273.19" y1="581.40" x2="273.19" y2="582.80" stroke="#333" stroke-width="1.1"/>
<line x1="277.23" y1="581.40" x2="277.23" y2="582.80" stroke="#333" stroke-width="1.1"/>
<line x1="281.26" y1="581.40" x2="281.26" y2="582.80" stroke="#333" stroke-width="1.1"/>
<line x1="285.30" y1="581.40" x2="285.30" y2="583.70" stroke="#333" stroke-width="1.1"/>
<line x1="289.34" y1="581.40" x2="289.34" y2="582.80" stroke="#333" stroke-width="1.1"/>
<line x1="293.38" y1="581.40" x2="293.38" y2="582.80" stroke="#333" stroke-width="1.1"/>
<line x1="297.41" y1="581.40" x2="297.41" y2="582.80" stroke="#333" stroke-width="1.1"/>
<line x1="301.45" y1="581.40" x2="301.45" y2="583.70" stroke="#333" stroke-width="1.1"/>
<line x1="305.49" y1="581.40" x2="305.49" y2="582.80" stroke="#333" stroke-width="1.1"/>
<line x1="309.52" y1="581.40" x2="309.52" y2="582.80" stroke="#333" stroke-width="1.1"/>
<line x1="313.56" y1="581.40" x2="313.56" y2="582.80" stroke="#333" stroke-width="1.1"/>
<line x1="317.60" y1="581.40" x2="317.60" y2="583.70" stroke="#333" stroke-width="1.1"/>
<line x1="321.64" y1="581.40" x2="321.64" y2="582.80" stroke="#333" stroke-width="1.1"/>
<line x1="325.68" y1="581.40" x2="325.68" y2="582.80" stroke="#333" stroke-width="1.1"/>
<line x1="329.71" y1="581.40" x2="329.71" y2="582.80" stroke="#333" stroke-width="1.1"/>
<line x1="333.75" y1="581.40" x2="333.75" y2="583.70" stroke="#333" stroke-width="1.1"/>
<line x1="337.79" y1="581.40" x2="337.79" y2="582.80" stroke="#333" stroke-width="1.1"/>
<line x1="341.82" y1="581.40" x2="341.82" y2="582.80" stroke="#333" stroke-width="1.1"/>
<line x1="345.86" y1="581.40" x2="345.86" y2="582.80" stroke="#333" stroke-width="1.1"/>
<line x1="349.90" y1="581.40" x2="349.90" y2="583.70" stroke="#333" stroke-width="1.1"/>
<line x1="353.94" y1="581.40" x2="353.94" y2="582.80" stroke="#333" stroke-width="1.1"/>
<line x1="357.98" y1="581.40" x2="357.98" y2="582.80" stroke="#333" stroke-width="1.1"/>
<line x1="362.01" y1="581.40" x2="362.01" y2="582.80" stroke="#333" stroke-width="1.1"/>
<line x1="366.05" y1="581.40" x2="366.05" y2="583.70" stroke="#333" stroke-width="1.1"/>
<line x1="370.09" y1="581.40" x2="370.09" y2="582.80" stroke="#333" stroke-width="1.1"/>
<line x1="374.12" y1="581.40" x2="374.12" y2="582.80" stroke="#333" stroke-width="1.1"/>
<line x1="378.16" y1="581.40" x2="378.16" y2="582.80" stroke="#333" stroke-width="1.1"/>
<line x1="382.20" y1="581.40" x2="382.20" y2="583.70" stroke="#333" stroke-width="1.1"/>
<line x1="386.24" y1="581.40" x2="386.24" y2="582.80" stroke="#333" stroke-width="1.1"/>
<line x1="390.27" y1="581.40" x2="390.27" y2="582.80" stroke="#333" stroke-width="1.1"/>
<line x1="394.31" y1="581.40" x2="394.31" y2="582.80" stroke="#333" stroke-width="1.1"/>
<line x1="398.35" y1="581.40" x2="398.35" y2="583.70" stroke="#333" stroke-width="1.1"/>
<line x1="402.39" y1="581.40" x2="402.39" y2="582.80" stroke="#333" stroke-width="1.1"/>
<line x1="406.43" y1="581.40" x2="406.43" y2="582.80" stroke="#333" stroke-width="1.1"/>
<line x1="410.46" y1="581.40" x2="410.46" y2="582.80" stroke="#333" stroke-width="1.1"/>
<line x1="414.50" y1="581.40" x2="414.50" y2="583.70" stroke="#333" stroke-width="1.1"/>
<line x1="418.54" y1="581.40" x2="418.54" y2="582.80" stroke="#333" stroke-width="1.1"/>
<line x1="422.57" y1="581.40" x2="422.57" y2="582.80" stroke="#333" stroke-width="1.1"/>
<line x1="426.61" y1="581.40" x2="426.61" y2="582.80" stroke="#333" stroke-width="1.1"/>
<line x1="430.65" y1="581.40" x2="430.65" y2="583.70" stroke="#333" stroke-width="1.1"/>
<line x1="434.69" y1="581.40" x2="434.69" y2="582.80" stroke="#333" stroke-width="1.1"/>
<line x1="438.73" y1="581.40" x2="438.73" y2="582.80" stroke="#333" stroke-width="1.1"/>
<line x1="442.76" y1="581.40" x2="442.76" y2="582.80" stroke="#333" stroke-width="1.1"/>
<line x1="446.80" y1="581.40" x2="446.80" y2="583.70" stroke="#333" stroke-width="1.1"/>
<line x1="450.84" y1="581.40" x2="450.84" y2="582.80" stroke="#333" stroke-width="1.1"/>
<line x1="454.88" y1="581.40" x2="454.88" y2="582.80" stroke="#333" stroke-width="1.1"/>
<line x1="458.91" y1="581.40" x2="458.91" y2="582.80" stroke="#333" stroke-width="1.1"/>
<line x1="462.95" y1="581.40" x2="462.95" y2="583.70" stroke="#333" stroke-width="1.1"/>
<line x1="466.99" y1="581.40" x2="466.99" y2="582.80" stroke="#333" stroke-width="1.1"/>
<line x1="471.02" y1="581.40" x2="471.02" y2="582.80" stroke="#333" stroke-width="1.1"/>
<line x1="475.06" y1="581.40" x2="475.06" y2="582.80" stroke="#333" stroke-width="1.1"/>
<line x1="479.10" y1="581.40" x2="479.10" y2="583.70" stroke="#333" stroke-width="1.1"/>
<line x1="483.14" y1="581.40" x2="483.14" y2="582.80" stroke="#333" stroke-width="1.1"/>
<line x1="487.18" y1="581.40" x2="487.18" y2="582.80" stroke="#333" stroke-width="1.1"/>
<line x1="491.21" y1="581.40" x2="491.21" y2="582.80" stroke="#333" stroke-width="1.1"/>
<line x1="495.25" y1="581.40" x2="495.25" y2="583.70" stroke="#333" stroke-width="1.1"/>
<line x1="499.29" y1="581.40" x2="499.29" y2="582.80" stroke="#333" stroke-width="1.1"/>
<line x1="503.32" y1="581.40" x2="503.32" y2="582.80" stroke="#333" stroke-width="1.1"/>
<line x1="507.36" y1="581.40" x2="507.36" y2="582.80" stroke="#333" stroke-width="1.1"/>
<line x1="511.40" y1="581.40" x2="511.40" y2="583.70" stroke="#333" stroke-width="1.1"/>
<line x1="515.44" y1="581.40" x2="515.44" y2="582.80" stroke="#333" stroke-width="1.1"/>
<line x1="519.48" y1="581.40" x2="519.48" y2="582.80" stroke="#333" stroke-width="1.1"/>
<line x1="523.51" y1="581.40" x2="523.51" y2="582.80" stroke="#333" stroke-width="1.1"/>
<line x1="527.55" y1="581.40" x2="527.55" y2="583.70" stroke="#333" stroke-width="1.1"/>
<line x1="531.59" y1="581.40" x2="531.59" y2="582.80" stroke="#333" stroke-width="1.1"/>
<line x1="535.62" y1="581.40" x2="535.62" y2="582.80" stroke="#333" stroke-width="1.1"/>
<line x1="539.66" y1="581.40" x2="539.66" y2="582.80" stroke="#333" stroke-width="1.1"/>
<line x1="543.70" y1="581.40" x2="543.70" y2="583.70" stroke="#333" stroke-width="1.1"/>
<line x1="547.74" y1="581.40" x2="547.74" y2="582.80" stroke="#333" stroke-width="1.1"/>
<line x1="551.77" y1="581.40" x2="551.77" y2="582.80" stroke="#333" stroke-width="1.1"/>
<line x1="555.81" y1="581.40" x2="555.81" y2="582.80" stroke="#333" stroke-width="1.1"/>
<line x1="559.85" y1="581.40" x2="559.85" y2="583.70" stroke="#333" stroke-width="1.1"/>
<line x1="563.89" y1="581.40" x2="563.89" y2="582.80" stroke="#333" stroke-width="1.1"/>
<line x1="567.92" y1="581.40" x2="567.92" y2="582.80" stroke="#333" stroke-width="1.1"/>
<line x1="571.96" y1="581.40" x2="571.96" y2="582.80" stroke="#333" stroke-width="1.1"/>
<line x1="576.00" y1="581.40" x2="576.00" y2="583.70" stroke="#333" stroke-width="1.1"/>
<line x1="580.04" y1="581.40" x2="580.04" y2="582.80" stroke="#333" stroke-width="1.1"/>
<line x1="584.08" y1="581.40" x2="584.08" y2="582.80" stroke="#333" stroke-width="1.1"/>
<line x1="588.11" y1="581.40" x2="588.11" y2="582.80" stroke="#333" stroke-width="1.1"/>
<line x1="592.15" y1="581.40" x2="592.15" y2="583.70" stroke="#333" stroke-width="1.1"/>
<line x1="596.19" y1="581.40" x2="596.19" y2="582.80" stroke="#333" stroke-width="1.1"/>
<line x1="600.23" y1="581.40" x2="600.23" y2="582.80" stroke="#333" stroke-width="1.1"/>
<line x1="604.26" y1="581.40" x2="604.26" y2="582.80" stroke="#333" stroke-width="1.1"/>
<line x1="608.30" y1="581.40" x2="608.30" y2="583.70" stroke="#333" stroke-width="1.1"/>
<line x1="612.34" y1="581.40" x2="612.34" y2="582.80" stroke="#333" stroke-width="1.1"/>
<line x1="616.38" y1="581.40" x2="616.38" y2="582.80" stroke="#333" stroke-width="1.1"/>
<line x1="620.41" y1="581.40" x2="620.41" y2="582.80" stroke="#333" stroke-width="1.1"/>
<line x1="624.45" y1="581.40" x2="624.45" y2="583.70" stroke="#333" stroke-width="1.1"/>
<line x1="628.49" y1="581.40" x2="628.49" y2="582.80" stroke="#333" stroke-width="1.1"/>
<line x1="632.52" y1="581.40" x2="632.52" y2="582.80" stroke="#333" stroke-width="1.1"/>
<line x1="636.56" y1="581.40" x2="636.56" y2="582.80" stroke="#333" stroke-width="1.1"/>
<line x1="640.60" y1="581.40" x2="640.60" y2="583.70" stroke="#333" stroke-width="1.1"/>
<line x1="644.64" y1="581.40" x2="644.64" y2="582.80" stroke="#333" stroke-width="1.1"/>
<line x1="648.67" y1="581.40" x2="648.67" y2="582.80" stroke="#333" stroke-width="1.1"/>
<line x1="652.71" y1="581.40" x2="652.71" y2="582.80" stroke="#333" stroke-width="1.1"/>
<line x1="656.75" y1="581.40" x2="656.75" y2="583.70" stroke="#333" stroke-width="1.1"/>
<line x1="660.79" y1="581.40" x2="660.79" y2="582.80" stroke="#333" stroke-width="1.1"/>
<line x1="664.83" y1="581.40" x2="664.83" y2="582.80" stroke="#333" stroke-width="1.1"/>
<line x1="668.86" y1="581.40" x2="668.86" y2="582.80" stroke="#333" stroke-width="1.1"/>
<line x1="672.90" y1="581.40" x2="672.90" y2="583.70" stroke="#333" stroke-width="1.1"/>
<line x1="676.94" y1="581.40" x2="676.94" y2="582.80" stroke="#333" stroke-width="1.1"/>
<line x1="680.98" y1="581.40" x2="680.98" y2="582.80" stroke="#333" stroke-width="1.1"/>
<line x1="685.01" y1="581.40" x2="685.01" y2="582.80" stroke="#333" stroke-width="1.1"/>
<line x1="689.05" y1="581.40" x2="689.05" y2="583.70" stroke="#333" stroke-width="1.1"/>
<line x1="693.09" y1="581.40" x2="693.09" y2="582.80" stroke="#333" stroke-width="1.1"/>
<line x1="697.12" y1="581.40" x2="697.12" y2="582.80" stroke="#333" stroke-width="1.1"/>
<line x1="701.16" y1="581.40" x2="701.16" y2="582.80" stroke="#333" stroke-width="1.1"/>
<line x1="705.20" y1="581.40" x2="705.20" y2="583.70" stroke="#333" stroke-width="1.1"/>
<line x1="709.24" y1="581.40" x2="709.24" y2="582.80" stroke="#333" stroke-width="1.1"/>
<line x1="713.27" y1="581.40" x2="713.27" y2="582.80" stroke="#333" stroke-width="1.1"/>
<line x1="717.31" y1="581.40" x2="717.31" y2="582.80" stroke="#333" stroke-width="1.1"/>
<line x1="721.35" y1="581.40" x2="721.35" y2="583.70" stroke="#333" stroke-width="1.1"/>
<line x1="725.39" y1="581.40" x2="725.39" y2="582.80" stroke="#333" stroke-width="1.1"/>
<line x1="729.42" y1="581.40" x2="729.42" y2="582.80" stroke="#333" stroke-width="1.1"/>
<line x1="733.46" y1="581.40" x2="733.46" y2="582.80" stroke="#333" stroke-width="1.1"/>
<line x1="737.50" y1="581.40" x2="737.50" y2="583.70" stroke="#333" stroke-width="1.1"/>
<text transform="translate(91.50,597.60) scale(1.05,1)" font-size="12.5" font-weight="normal" text-anchor="middle" fill="#1a1a1a" >10</text>
<text transform="translate(156.10,597.60) scale(1.05,1)" font-size="12.5" font-weight="normal" text-anchor="middle" fill="#1a1a1a" >12</text>
<text transform="translate(220.70,597.60) scale(1.05,1)" font-size="12.5" font-weight="normal" text-anchor="middle" fill="#1a1a1a" >14</text>
<text transform="translate(285.30,597.60) scale(1.05,1)" font-size="12.5" font-weight="normal" text-anchor="middle" fill="#1a1a1a" >16</text>
<text transform="translate(349.90,597.60) scale(1.05,1)" font-size="12.5" font-weight="normal" text-anchor="middle" fill="#1a1a1a" >18</text>
<text transform="translate(414.50,597.60) scale(1.05,1)" font-size="12.5" font-weight="normal" text-anchor="middle" fill="#1a1a1a" >20</text>
<text transform="translate(479.10,597.60) scale(1.05,1)" font-size="12.5" font-weight="normal" text-anchor="middle" fill="#1a1a1a" >22</text>
<text transform="translate(543.70,597.60) scale(1.05,1)" font-size="12.5" font-weight="normal" text-anchor="middle" fill="#1a1a1a" >24</text>
<text transform="translate(608.30,597.60) scale(1.05,1)" font-size="12.5" font-weight="normal" text-anchor="middle" fill="#1a1a1a" >26</text>
<text transform="translate(672.90,597.60) scale(1.05,1)" font-size="12.5" font-weight="normal" text-anchor="middle" fill="#1a1a1a" >28</text>
<text transform="translate(737.50,597.60) scale(1.05,1)" font-size="12.5" font-weight="normal" text-anchor="middle" fill="#1a1a1a" >30</text>
<text transform="translate(415.4,620.6) scale(1.06,1)" font-size="15.6" font-weight="bold" text-anchor="middle" fill="#111">Time (minutes)</text>
<text transform="translate(100.50,428.00) scale(1.02,1)" font-size="13" font-weight="bold" text-anchor="start" fill="#111" >CMAB008</text>
<polyline points="116.00,578.90 116.25,578.90 116.50,578.90 116.75,578.90 117.00,578.90 117.25,578.90 117.50,578.89 117.75,578.89 118.00,578.89 118.25,578.89 118.50,578.89" fill="none" stroke="#9c9c9c" stroke-width="1.7" stroke-linejoin="round"/>
<polyline points="126.50,578.77 126.75,578.74 127.00,578.70 127.25,578.65 127.50,578.60 127.75,578.54 128.00,578.47 128.25,578.39 128.50,578.31 128.75,578.22 129.00,578.13 129.25,578.03 129.50,577.95 129.75,577.86 130.00,577.79 130.25,577.73 130.50,577.69 130.75,577.66 131.00,577.65 131.25,577.65 131.50,577.68 131.75,577.73 132.00,577.78 132.25,577.85 132.50,577.94 132.75,578.02 133.00,578.11 133.25,578.20 133.50,578.29 133.75,578.37 134.00,578.45 134.25,578.51 134.50,578.57 134.75,578.63 135.00,578.67 135.25,578.71 135.50,578.73 135.75,578.76 136.00,578.78 136.25,578.79 136.50,578.80 136.75,578.81 137.00,578.81 137.25,578.82" fill="none" stroke="#9c9c9c" stroke-width="1.7" stroke-linejoin="round"/>
<polyline points="145.00,578.80 145.25,578.80 145.50,578.79 145.75,578.79 146.00,578.79 146.25,578.79 146.50,578.79 146.75,578.79 147.00,578.79 147.25,578.79 147.50,578.79 147.75,578.79 148.00,578.79 148.25,578.78 148.50,578.78 148.75,578.78 149.00,578.78 149.25,578.78 149.50,578.78 149.75,578.78 150.00,578.78 150.25,578.78 150.50,578.78 150.75,578.78 151.00,578.77 151.25,578.77 151.50,578.77 151.75,578.77 152.00,578.77 152.25,578.77 152.50,578.77 152.75,578.77 153.00,578.77 153.25,578.77 153.50,578.77 153.75,578.77 154.00,578.76 154.25,578.76 154.50,578.76 154.75,578.76 155.00,578.76 155.25,578.76 155.50,578.76 155.75,578.76 156.00,578.76 156.25,578.76 156.50,578.76 156.75,578.75 157.00,578.75 157.25,578.75 157.50,578.75 157.75,578.75 158.00,578.75 158.25,578.75 158.50,578.75 158.75,578.75 159.00,578.75 159.25,578.75 159.50,578.74 159.75,578.74 160.00,578.74 160.25,578.74 160.50,578.74 160.75,578.74 161.00,578.74 161.25,578.74 161.50,578.74 161.75,578.74 162.00,578.74 162.25,578.73 162.50,578.73 162.75,578.73 163.00,578.73 163.25,578.73 163.50,578.73 163.75,578.73 164.00,578.73 164.25,578.73 164.50,578.73 164.75,578.73 165.00,578.72 165.25,578.72 165.50,578.72 165.75,578.72 166.00,578.72 166.25,578.72 166.50,578.72 166.75,578.72 167.00,578.72 167.25,578.72 167.50,578.72 167.75,578.72 168.00,578.71 168.25,578.71 168.50,578.71 168.75,578.71 169.00,578.71 169.25,578.71 169.50,578.71 169.75,578.71 170.00,578.71 170.25,578.71 170.50,578.70 170.75,578.70 171.00,578.70 171.25,578.70 171.50,578.70 171.75,578.70 172.00,578.70 172.25,578.69 172.50,578.69 172.75,578.69 173.00,578.69 173.25,578.68 173.50,578.68 173.75,578.67 174.00,578.67 174.25,578.66 174.50,578.65 174.75,578.64 175.00,578.63 175.25,578.61 175.50,578.60 175.75,578.58 176.00,578.56 176.25,578.54 176.50,578.52 176.75,578.49 177.00,578.46 177.25,578.43 177.50,578.39 177.75,578.36 178.00,578.32 178.25,578.28 178.50,578.24 178.75,578.20 179.00,578.16 179.25,578.12 179.50,578.08 179.75,578.04 180.00,578.00 180.25,577.97 180.50,577.94 180.75,577.92 181.00,577.90 181.25,577.88 181.50,577.87 181.75,577.87 182.00,577.87 182.25,577.87 182.50,577.88 182.75,577.90 183.00,577.92 183.25,577.95 183.50,577.98 183.75,578.01 184.00,578.05 184.25,578.08 184.50,578.12 184.75,578.16 185.00,578.20 185.25,578.24 185.50,578.28 185.75,578.31 186.00,578.35 186.25,578.38 186.50,578.41 186.75,578.44 187.00,578.47 187.25,578.49 187.50,578.51 187.75,578.53 188.00,578.55 188.25,578.56 188.50,578.58 188.75,578.59 189.00,578.59 189.25,578.60 189.50,578.61 189.75,578.61 190.00,578.62 190.25,578.62 190.50,578.62 190.75,578.62 191.00,578.62 191.25,578.63 191.50,578.63 191.75,578.63 192.00,578.63 192.25,578.63 192.50,578.63 192.75,578.62 193.00,578.62 193.25,578.62 193.50,578.62 193.75,578.62 194.00,578.62 194.25,578.62 194.50,578.62 194.75,578.62 195.00,578.62 195.25,578.62 195.50,578.62 195.75,578.62 196.00,578.61 196.25,578.61 196.50,578.61 196.75,578.61 197.00,578.61 197.25,578.61 197.50,578.61 197.75,578.61 198.00,578.61 198.25,578.60 198.50,578.60 198.75,578.60 199.00,578.60 199.25,578.59 199.50,578.58 199.75,578.58 200.00,578.56 200.25,578.55 200.50,578.53 200.75,578.50 201.00,578.47 201.25,578.43" fill="none" stroke="#9c9c9c" stroke-width="1.7" stroke-linejoin="round"/>
<polyline points="576.00,578.42 576.25,578.42 576.50,578.42 576.75,578.41 577.00,578.41 577.25,578.41 577.50,578.41 577.75,578.40 578.00,578.40 578.25,578.40 578.50,578.39 578.75,578.38 579.00,578.37 579.25,578.36 579.50,578.35 579.75,578.33 580.00,578.31 580.25,578.29 580.50,578.27 580.75,578.25 581.00,578.22 581.25,578.18 581.50,578.15 581.75,578.11 582.00,578.07 582.25,578.03 582.50,577.98 582.75,577.93 583.00,577.88 583.25,577.83 583.50,577.78 583.75,577.73 584.00,577.68 584.25,577.64 584.50,577.60 584.75,577.56 585.00,577.52 585.25,577.49 585.50,577.47 585.75,577.45 586.00,577.44 586.25,577.43 586.50,577.44 586.75,577.44 587.00,577.46 587.25,577.48 587.50,577.51 587.75,577.54 588.00,577.58 588.25,577.63 588.50,577.67 588.75,577.72 589.00,577.77 589.25,577.82 589.50,577.87 589.75,577.92 590.00,577.97 590.25,578.02 590.50,578.06 590.75,578.11 591.00,578.15 591.25,578.18 591.50,578.22 591.75,578.25 592.00,578.28 592.25,578.30 592.50,578.32 592.75,578.34 593.00,578.36 593.25,578.37 593.50,578.39 593.75,578.40 594.00,578.41 594.25,578.41 594.50,578.42 594.75,578.42 595.00,578.43 595.25,578.43 595.50,578.44 595.75,578.44 596.00,578.44 596.25,578.44 596.50,578.44 596.75,578.44 597.00,578.44 597.25,578.45 597.50,578.45 597.75,578.45 598.00,578.45 598.25,578.45 598.50,578.45 598.75,578.45 599.00,578.45 599.25,578.45 599.50,578.45 599.75,578.45 600.00,578.45 600.25,578.45 600.50,578.45 600.75,578.45 601.00,578.45 601.25,578.45 601.50,578.45 601.75,578.45 602.00,578.45 602.25,578.45 602.50,578.45 602.75,578.45 603.00,578.45 603.25,578.45 603.50,578.45 603.75,578.45 604.00,578.45 604.25,578.46 604.50,578.46 604.75,578.46 605.00,578.46 605.25,578.46 605.50,578.46 605.75,578.46 606.00,578.46 606.25,578.46 606.50,578.46 606.75,578.46 607.00,578.46 607.25,578.46 607.50,578.46 607.75,578.46 608.00,578.46 608.25,578.46 608.50,578.46 608.75,578.46 609.00,578.46 609.25,578.46 609.50,578.46 609.75,578.46 610.00,578.46 610.25,578.46 610.50,578.46 610.75,578.46 611.00,578.46 611.25,578.46 611.50,578.46 611.75,578.46 612.00,578.47 612.25,578.47 612.50,578.47 612.75,578.47 613.00,578.47 613.25,578.47 613.50,578.47 613.75,578.47 614.00,578.47 614.25,578.47 614.50,578.47 614.75,578.47 615.00,578.47 615.25,578.47 615.50,578.47 615.75,578.47 616.00,578.47 616.25,578.47 616.50,578.47 616.75,578.47 617.00,578.47 617.25,578.47 617.50,578.47 617.75,578.47 618.00,578.47 618.25,578.47 618.50,578.47 618.75,578.47 619.00,578.47 619.25,578.47 619.50,578.47 619.75,578.47 620.00,578.48 620.25,578.48 620.50,578.48 620.75,578.48 621.00,578.48 621.25,578.48 621.50,578.48 621.75,578.48 622.00,578.48 622.25,578.48 622.50,578.48 622.75,578.48 623.00,578.48 623.25,578.48 623.50,578.48 623.75,578.48 624.00,578.48 624.25,578.48 624.50,578.48 624.75,578.48 625.00,578.48 625.25,578.48 625.50,578.48 625.75,578.48 626.00,578.48 626.25,578.48 626.50,578.48 626.75,578.48 627.00,578.48 627.25,578.48 627.50,578.48 627.75,578.48 628.00,578.49 628.25,578.49 628.50,578.49 628.75,578.49 629.00,578.49 629.25,578.49 629.50,578.49 629.75,578.49 630.00,578.49 630.25,578.49 630.50,578.49 630.75,578.49 631.00,578.49 631.25,578.49 631.50,578.49 631.75,578.49 632.00,578.49 632.25,578.49 632.50,578.49 632.75,578.49 633.00,578.49 633.25,578.49 633.50,578.49 633.75,578.49 634.00,578.49 634.25,578.49 634.50,578.49 634.75,578.49 635.00,578.49 635.25,578.49 635.50,578.49" fill="none" stroke="#9c9c9c" stroke-width="1.7" stroke-linejoin="round"/>
<polyline points="677.00,578.48 677.25,578.50 677.50,578.51 677.75,578.52 678.00,578.53 678.25,578.53 678.50,578.54 678.75,578.54 679.00,578.54 679.25,578.55 679.50,578.55 679.75,578.55 680.00,578.55 680.25,578.55 680.50,578.55 680.75,578.55 681.00,578.55 681.25,578.55 681.50,578.55 681.75,578.55 682.00,578.55 682.25,578.55 682.50,578.55 682.75,578.55 683.00,578.55 683.25,578.55 683.50,578.55 683.75,578.55 684.00,578.55 684.25,578.56 684.50,578.56 684.75,578.56 685.00,578.56 685.25,578.56 685.50,578.56 685.75,578.56 686.00,578.56 686.25,578.56 686.50,578.56 686.75,578.56 687.00,578.56 687.25,578.56 687.50,578.56 687.75,578.56 688.00,578.56 688.25,578.56 688.50,578.56 688.75,578.56 689.00,578.56 689.25,578.56 689.50,578.56 689.75,578.56 690.00,578.56 690.25,578.56 690.50,578.56 690.75,578.56 691.00,578.56 691.25,578.56" fill="none" stroke="#9c9c9c" stroke-width="1.7" stroke-linejoin="round"/>
<polyline points="705.75,578.58 706.00,578.58 706.25,578.58 706.50,578.58 706.75,578.58 707.00,578.58 707.25,578.58 707.50,578.58 707.75,578.58 708.00,578.59 708.25,578.59 708.50,578.59 708.75,578.59 709.00,578.59 709.25,578.59 709.50,578.59 709.75,578.59 710.00,578.59 710.25,578.59 710.50,578.59 710.75,578.59 711.00,578.59 711.25,578.59 711.50,578.59 711.75,578.59 712.00,578.59 712.25,578.59 712.50,578.59 712.75,578.59 713.00,578.59 713.25,578.59" fill="none" stroke="#9c9c9c" stroke-width="1.7" stroke-linejoin="round"/>
<polyline points="201.50,578.38 201.75,578.32 202.00,578.24 202.25,578.15 202.50,578.05 202.75,577.93 203.00,577.79 203.25,577.64 203.50,577.47 203.75,577.30 204.00,577.11 204.25,576.91 204.50,576.72 204.75,576.53 205.00,576.35 205.25,576.19 205.50,576.04 205.75,575.92 206.00,575.84 206.25,575.78 206.50,575.76 206.75,575.78 207.00,575.83 207.25,575.91 207.50,576.03 207.75,576.17 208.00,576.33 208.25,576.51 208.50,576.70 208.75,576.89 209.00,577.08 209.25,577.26 209.50,577.44 209.75,577.60 210.00,577.75 210.25,577.88 210.50,578.00 210.75,578.10 211.00,578.19 211.25,578.26 211.50,578.32 211.75,578.37 212.00,578.40 212.25,578.43 212.50,578.45 212.75,578.46 213.00,578.47 213.25,578.48 213.50,578.47 213.75,578.47 214.00,578.45 214.25,578.44 214.50,578.41 214.75,578.38 215.00,578.34 215.25,578.28 215.50,578.22 215.75,578.14 216.00,578.05 216.25,577.94 216.50,577.82 216.75,577.68 217.00,577.53 217.25,577.36 217.50,577.18 217.75,576.99 218.00,576.79 218.25,576.60 218.50,576.41 218.75,576.23 219.00,576.07 219.25,575.93 219.50,575.82 219.75,575.74 220.00,575.69 220.25,575.68 220.50,575.70 220.75,575.76 221.00,575.85 221.25,575.97 221.50,576.12 221.75,576.28 222.00,576.46 222.25,576.65 222.50,576.84 222.75,577.03 223.00,577.22 223.25,577.39 223.50,577.55 223.75,577.70 224.00,577.83 224.25,577.94 224.50,578.04 224.75,578.12 225.00,578.19 225.25,578.25 225.50,578.29 225.75,578.33 226.00,578.35 226.25,578.37 226.50,578.38 226.75,578.39 227.00,578.38 227.25,578.36 227.50,578.33 227.75,578.26 228.00,578.17 228.25,578.01 228.50,577.79 228.75,577.47 229.00,577.02 229.25,576.42 229.50,575.62 229.75,574.60 230.00,573.34 230.25,571.82 230.50,570.05 230.75,568.07 231.00,565.93 231.25,563.71 231.50,561.52 231.75,559.46 232.00,557.67 232.25,556.25 232.50,555.31 232.75,554.91 233.00,555.05 233.25,555.62 233.50,556.61 233.75,557.95 234.00,559.58 234.25,561.41 234.50,563.35 234.75,565.32 235.00,567.25 235.25,569.08 235.50,570.76 235.75,572.25 236.00,573.54 236.25,574.64 236.50,575.53 236.75,576.25 237.00,576.82 237.25,577.24 237.50,577.55 237.75,577.77 238.00,577.90 238.25,577.97 238.50,577.97 238.75,577.93 239.00,577.83 239.25,577.68 239.50,577.47 239.75,577.22 240.00,576.93 240.25,576.59 240.50,576.23 240.75,575.85 241.00,575.48 241.25,575.13 241.50,574.82 241.75,574.58 242.00,574.42 242.25,574.35 242.50,574.37 242.75,574.47 243.00,574.63 243.25,574.86 243.50,575.14 243.75,575.45 244.00,575.78 244.25,576.11 244.50,576.44 244.75,576.75 245.00,577.03 245.25,577.28 245.50,577.50 245.75,577.69 246.00,577.84 246.25,577.96 246.50,578.06 246.75,578.13 247.00,578.19 247.25,578.23 247.50,578.25 247.75,578.27 248.00,578.29 248.25,578.29 248.50,578.30 248.75,578.30 249.00,578.30 249.25,578.30 249.50,578.30 249.75,578.30 250.00,578.30 250.25,578.30 250.50,578.30 250.75,578.30 251.00,578.29 251.25,578.29 251.50,578.29 251.75,578.29 252.00,578.29 252.25,578.29 252.50,578.28 252.75,578.28 253.00,578.28 253.25,578.28 253.50,578.28 253.75,578.28 254.00,578.28 254.25,578.27 254.50,578.27 254.75,578.27 255.00,578.27 255.25,578.26 255.50,578.25 255.75,578.24 256.00,578.23 256.25,578.20 256.50,578.17 256.75,578.12 257.00,578.05 257.25,577.95 257.50,577.82 257.75,577.64 258.00,577.42 258.25,577.15 258.50,576.83 258.75,576.46 259.00,576.05 259.25,575.61 259.50,575.15 259.75,574.70 260.00,574.29 260.25,573.94 260.50,573.67 260.75,573.49 261.00,573.43 261.25,573.49 261.50,573.66 261.75,573.92 262.00,574.26 262.25,574.66 262.50,575.09 262.75,575.52 263.00,575.92 263.25,576.27 263.50,576.55 263.75,576.76 264.00,576.87 264.25,576.90 264.50,576.83 264.75,576.67 265.00,576.44 265.25,576.14 265.50,575.81 265.75,575.46 266.00,575.12 266.25,574.83 266.50,574.59 266.75,574.44 267.00,574.39 267.25,574.43 267.50,574.54 267.75,574.71 268.00,574.94 268.25,575.20 268.50,575.50 268.75,575.82 269.00,576.14 269.25,576.44 269.50,576.73 269.75,577.00 270.00,577.23 270.25,577.43 270.50,577.60 270.75,577.74 271.00,577.85 271.25,577.94 271.50,578.00 271.75,578.05 272.00,578.09 272.25,578.11 272.50,578.13 272.75,578.14 273.00,578.15 273.25,578.15 273.50,578.15 273.75,578.15 274.00,578.15 274.25,578.15 274.50,578.15 274.75,578.15 275.00,578.15 275.25,578.15 275.50,578.15 275.75,578.15 276.00,578.14 276.25,578.14 276.50,578.14 276.75,578.14 277.00,578.14 277.25,578.14 277.50,578.13 277.75,578.13 278.00,578.13 278.25,578.13 278.50,578.13 278.75,578.13 279.00,578.13 279.25,578.12 279.50,578.12 279.75,578.12 280.00,578.12 280.25,578.12 280.50,578.12 280.75,578.12 281.00,578.11 281.25,578.11 281.50,578.11 281.75,578.11 282.00,578.11 282.25,578.11 282.50,578.10 282.75,578.10 283.00,578.10 283.25,578.10 283.50,578.10 283.75,578.10 284.00,578.10 284.25,578.09 284.50,578.09 284.75,578.09 285.00,578.09 285.25,578.09 285.50,578.09 285.75,578.09 286.00,578.08 286.25,578.08 286.50,578.08 286.75,578.08 287.00,578.08 287.25,578.08 287.50,578.07 287.75,578.07 288.00,578.06 288.25,578.06 288.50,578.05 288.75,578.03 289.00,578.01 289.25,577.98 289.50,577.93 289.75,577.85 290.00,577.75 290.25,577.60 290.50,577.38 290.75,577.09 291.00,576.70 291.25,576.18 291.50,575.50 291.75,574.65 292.00,573.58 292.25,572.29 292.50,570.74 292.75,568.95 293.00,566.90 293.25,564.63 293.50,562.18 293.75,559.60 294.00,556.97 294.25,554.38 294.50,551.92 294.75,549.70 295.00,547.83 295.25,546.38 295.50,545.44 295.75,545.04 296.00,545.19 296.25,545.85 296.50,546.98 296.75,548.54 297.00,550.45 297.25,552.64 297.50,555.02 297.75,557.50 298.00,559.99 298.25,562.43 298.50,564.74 298.75,566.89 299.00,568.83 299.25,570.55 299.50,572.04 299.75,573.31 300.00,574.36 300.25,575.22 300.50,575.91 300.75,576.45 301.00,576.87 301.25,577.19 301.50,577.42 301.75,577.60 302.00,577.72 302.25,577.81 302.50,577.87 302.75,577.91 303.00,577.93 303.25,577.95 303.50,577.96 303.75,577.97 304.00,577.97 304.25,577.97 304.50,577.97 304.75,577.97 305.00,577.97 305.25,577.97 305.50,577.97 305.75,577.97 306.00,577.97 306.25,577.96 306.50,577.96 306.75,577.95 307.00,577.94 307.25,577.92 307.50,577.88 307.75,577.82 308.00,577.73 308.25,577.57 308.50,577.33 308.75,576.96 309.00,576.41 309.25,575.59 309.50,574.42 309.75,572.78 310.00,570.52 310.25,567.51 310.50,563.56 310.75,558.53 311.00,552.26 311.25,544.66 311.50,535.68 311.75,525.37 312.00,513.86 312.25,501.40 312.50,488.38 312.75,475.25 313.00,462.59 313.25,450.97 313.50,441.01 313.75,433.26 314.00,428.15 314.25,425.99 314.50,426.86 314.75,430.60 315.00,437.00 315.25,445.69 315.50,456.21 315.75,468.04 316.00,480.61 316.25,493.39 316.50,505.90 316.75,517.72 317.00,528.57 317.25,538.23 317.50,546.61 317.75,553.69 318.00,559.53 318.25,564.23 318.50,567.92 318.75,570.75 319.00,572.88 319.25,574.44 319.50,575.56 319.75,576.35 320.00,576.89 320.25,577.25 320.50,577.49 320.75,577.65 321.00,577.74 321.25,577.80 321.50,577.84 321.75,577.85 322.00,577.86 322.25,577.86 322.50,577.85 322.75,577.83 323.00,577.81 323.25,577.77 323.50,577.72 323.75,577.65 324.00,577.55 324.25,577.43 324.50,577.27 324.75,577.08 325.00,576.85 325.25,576.57 325.50,576.25 325.75,575.89 326.00,575.50 326.25,575.09 326.50,574.67 326.75,574.25 327.00,573.86 327.25,573.51 327.50,573.23 327.75,573.02 328.00,572.89 328.25,572.86 328.50,572.93 328.75,573.08 329.00,573.33 329.25,573.64 329.50,574.00 329.75,574.40 330.00,574.82 330.25,575.23 330.50,575.64 330.75,576.01 331.00,576.35 331.25,576.65 331.50,576.91 331.75,577.13 332.00,577.30 332.25,577.44 332.50,577.55 332.75,577.63 333.00,577.68 333.25,577.72 333.50,577.75 333.75,577.76 334.00,577.76 334.25,577.74 334.50,577.72 334.75,577.68 335.00,577.62 335.25,577.54 335.50,577.44 335.75,577.32 336.00,577.17 336.25,576.99 336.50,576.77 336.75,576.53 337.00,576.27 337.25,575.98 337.50,575.69 337.75,575.40 338.00,575.11 338.25,574.86 338.50,574.64 338.75,574.47 339.00,574.35 339.25,574.31 339.50,574.32 339.75,574.41 340.00,574.55 340.25,574.75 340.50,574.99 340.75,575.27 341.00,575.55 341.25,575.85 341.50,576.13 341.75,576.41 342.00,576.65 342.25,576.88 342.50,577.07 342.75,577.23 343.00,577.36 343.25,577.47 343.50,577.55 343.75,577.62 344.00,577.66 344.25,577.70 344.50,577.72 344.75,577.74 345.00,577.75 345.25,577.76 345.50,577.76 345.75,577.77 346.00,577.77 346.25,577.77 346.50,577.77 346.75,577.76 347.00,577.76 347.25,577.76 347.50,577.76 347.75,577.76 348.00,577.75 348.25,577.74 348.50,577.73 348.75,577.72 349.00,577.70 349.25,577.67 349.50,577.63 349.75,577.57 350.00,577.50 350.25,577.41 350.50,577.29 350.75,577.14 351.00,576.96 351.25,576.75 351.50,576.51 351.75,576.24 352.00,575.94 352.25,575.63 352.50,575.30 352.75,574.99 353.00,574.69 353.25,574.43 353.50,574.21 353.75,574.05 354.00,573.95 354.25,573.93 354.50,573.98 354.75,574.10 355.00,574.28 355.25,574.52 355.50,574.79 355.75,575.10 356.00,575.42 356.25,575.73 356.50,576.04 356.75,576.32 357.00,576.58 357.25,576.81 357.50,577.00 357.75,577.17 358.00,577.30 358.25,577.39 358.50,577.47 358.75,577.50 359.00,577.51 359.25,577.46 359.50,577.34 359.75,577.10 360.00,576.66 360.25,575.92 360.50,574.67 360.75,572.65 361.00,569.45 361.25,564.48 361.50,556.98 361.75,545.88 362.00,529.87" fill="none" stroke="#1c1c1c" stroke-width="1.1" stroke-linejoin="round"/>
<polyline points="361.75,545.88 362.00,529.87 362.25,507.30 362.50,476.24 362.75,434.53 363.00,410.30" fill="none" stroke="#4a4a4a" stroke-width="1.1" stroke-linejoin="round"/>
<polyline points="362.75,434.53 363.00,410.30 363.25,410.30 363.50,410.30 363.75,410.30 364.00,410.30 364.25,410.30 364.50,410.30 364.75,410.30 365.00,410.30 365.25,410.30 365.50,410.30 365.75,410.30 366.00,410.30 366.25,410.30 366.50,410.30 366.75,410.30 367.00,410.30 367.25,410.30 367.50,410.30 367.75,410.30 368.00,410.30 368.25,410.30 368.50,410.30 368.75,410.30 369.00,410.30 369.25,410.30 369.50,410.30 369.75,410.30 370.00,410.30 370.25,410.30 370.50,410.30 370.75,452.60" fill="none" stroke="#555555" stroke-width="1.1" stroke-linejoin="round"/>
<polyline points="370.50,410.30 370.75,452.60 371.00,489.77 371.25,517.18 371.50,536.91 371.75,550.78" fill="none" stroke="#4a4a4a" stroke-width="1.1" stroke-linejoin="round"/>
<polyline points="371.50,536.91 371.75,550.78 372.00,560.29 372.25,566.67 372.50,570.85 372.75,573.52 373.00,575.19 373.25,576.21 373.50,576.83 373.75,577.18 374.00,577.38 374.25,577.50 374.50,577.56 374.75,577.59 375.00,577.61 375.25,577.62 375.50,577.62 375.75,577.62 376.00,577.62 376.25,577.62 376.50,577.62 376.75,577.62 377.00,577.61 377.25,577.61 377.50,577.61 377.75,577.60 378.00,577.60 378.25,577.58 378.50,577.55 378.75,577.50 379.00,577.42 379.25,577.28 379.50,577.04 379.75,576.67 380.00,576.09 380.25,575.23 380.50,573.97 380.75,572.20 381.00,569.79 381.25,566.61 381.50,562.55 381.75,557.57 382.00,551.67 382.25,544.94 382.50,537.60 382.75,529.95 383.00,522.40 383.25,515.39 383.50,509.42 383.75,504.93 384.00,502.25 384.25,501.62 384.50,502.90 384.75,505.94 385.00,510.50 385.25,516.30 385.50,522.94 385.75,530.03 386.00,537.20 386.25,544.11 386.50,550.49 386.75,556.17 387.00,561.05 387.25,565.08 387.50,568.30 387.75,570.77 388.00,572.57 388.25,573.81 388.50,574.58 388.75,574.96 389.00,575.04 389.25,574.88 389.50,574.55 389.75,574.09 390.00,573.56 390.25,573.02 390.50,572.50 390.75,572.07 391.00,571.75 391.25,571.57 391.50,571.55 391.75,571.70 392.00,572.00 392.25,572.43 392.50,572.95 392.75,573.53 393.00,574.14 393.25,574.73 393.50,575.28 393.75,575.77 394.00,576.19 394.25,576.54 394.50,576.82 394.75,577.03 395.00,577.19 395.25,577.30 395.50,577.38 395.75,577.43 396.00,577.47 396.25,577.49 396.50,577.50 396.75,577.51 397.00,577.51 397.25,577.51 397.50,577.51 397.75,577.51 398.00,577.51 398.25,577.51 398.50,577.51 398.75,577.51 399.00,577.50 399.25,577.50 399.50,577.50 399.75,577.50 400.00,577.50 400.25,577.50 400.50,577.50 400.75,577.50 401.00,577.49 401.25,577.49 401.50,577.48 401.75,577.48 402.00,577.46 402.25,577.44 402.50,577.39 402.75,577.32 403.00,577.19 403.25,577.00 403.50,576.70 403.75,576.25 404.00,575.59 404.25,574.67 404.50,573.42 404.75,571.77 405.00,569.66 405.25,567.07 405.50,564.00 405.75,560.50 406.00,556.69 406.25,552.71 406.50,548.78 406.75,545.14 407.00,542.04 407.25,539.70 407.50,538.31 407.75,537.98 408.00,538.65 408.25,540.22 408.50,542.60 408.75,545.61 409.00,549.06 409.25,552.75 409.50,556.47 409.75,560.07 410.00,563.39 410.25,566.36 410.50,568.91 410.75,571.03 411.00,572.74 411.25,574.07 411.50,575.09 411.75,575.84 412.00,576.37 412.25,576.74 412.50,577.00 412.75,577.16 413.00,577.26 413.25,577.33 413.50,577.36 413.75,577.37 414.00,577.36 414.25,577.33 414.50,577.28 414.75,577.21 415.00,577.11 415.25,576.96 415.50,576.76 415.75,576.50 416.00,576.16 416.25,575.73 416.50,575.20 416.75,574.58 417.00,573.85 417.25,573.04 417.50,572.16 417.75,571.23 418.00,570.30 418.25,569.40 418.50,568.58 418.75,567.88 419.00,567.35 419.25,567.02 419.50,566.90 419.75,567.00 420.00,567.30 420.25,567.77 420.50,568.40 420.75,569.15 421.00,569.98 421.25,570.85 421.50,571.73 421.75,572.58 422.00,573.39 422.25,574.12 422.50,574.77 422.75,575.33 423.00,575.80 423.25,576.19 423.50,576.49 423.75,576.73 424.00,576.92 424.25,577.06 424.50,577.16 424.75,577.23 425.00,577.28 425.25,577.31 425.50,577.33 425.75,577.35 426.00,577.35 426.25,577.36 426.50,577.36 426.75,577.36 427.00,577.36 427.25,577.36 427.50,577.36 427.75,577.36 428.00,577.36 428.25,577.36 428.50,577.36 428.75,577.36 429.00,577.35 429.25,577.35 429.50,577.35 429.75,577.35 430.00,577.35 430.25,577.35 430.50,577.35 430.75,577.35 431.00,577.34 431.25,577.34 431.50,577.34 431.75,577.34 432.00,577.34 432.25,577.34 432.50,577.34 432.75,577.34 433.00,577.33 433.25,577.33 433.50,577.33 433.75,577.33 434.00,577.33 434.25,577.33 434.50,577.33 434.75,577.33 435.00,577.32 435.25,577.32 435.50,577.32 435.75,577.32 436.00,577.32 436.25,577.32 436.50,577.32 436.75,577.32 437.00,577.31 437.25,577.31 437.50,577.31 437.75,577.31 438.00,577.31 438.25,577.31 438.50,577.31 438.75,577.30 439.00,577.30 439.25,577.29 439.50,577.28 439.75,577.27 440.00,577.24 440.25,577.21 440.50,577.15 440.75,577.07 441.00,576.94 441.25,576.77 441.50,576.53 441.75,576.23 442.00,575.86 442.25,575.42 442.50,574.93 442.75,574.40 443.00,573.86 443.25,573.35 443.50,572.90 443.75,572.56 444.00,572.34 444.25,572.27 444.50,572.34 444.75,572.53 445.00,572.81 445.25,573.11 445.50,573.39 445.75,573.55 446.00,573.51 446.25,573.18 446.50,572.45 446.75,571.18 447.00,569.23 447.25,566.42 447.50,562.55 447.75,557.38 448.00,550.64 448.25,542.05" fill="none" stroke="#1c1c1c" stroke-width="1.1" stroke-linejoin="round"/>
<polyline points="448.00,550.64 448.25,542.05 448.50,531.31 448.75,518.16 449.00,502.33 449.25,483.65 449.50,462.03 449.75,437.48 450.00,410.30" fill="none" stroke="#4a4a4a" stroke-width="1.1" stroke-linejoin="round"/>
<polyline points="449.75,437.48 450.00,410.30 450.25,410.30 450.50,410.30 450.75,410.30 451.00,410.30 451.25,410.30 451.50,410.30 451.75,410.30 452.00,410.30 452.25,410.30 452.50,410.30 452.75,410.30 453.00,410.30 453.25,410.30 453.50,410.30 453.75,410.30 454.00,410.30 454.25,410.30 454.50,410.30 454.75,410.30 455.00,410.30 455.25,410.30 455.50,410.30 455.75,410.30 456.00,427.15" fill="none" stroke="#555555" stroke-width="1.1" stroke-linejoin="round"/>
<polyline points="455.75,410.30 456.00,427.15 456.25,451.76 456.50,473.46 456.75,492.20 457.00,508.07 457.25,521.24 457.50,531.94 457.75,540.48 458.00,547.15" fill="none" stroke="#4a4a4a" stroke-width="1.1" stroke-linejoin="round"/>
<polyline points="457.75,540.48 458.00,547.15 458.25,552.25 458.50,556.08 458.75,558.89 459.00,560.90 459.25,562.31 459.50,563.28 459.75,563.94 460.00,564.39 460.25,564.70 460.50,564.91 460.75,565.07 461.00,565.18 461.25,565.22 461.50,565.14 461.75,564.87 462.00,564.29 462.25,563.21 462.50,561.40 462.75,558.55 463.00,554.32 463.25,548.33 463.50,540.20 463.75,529.63 464.00,516.44 464.25,500.67 464.50,482.63 464.75,462.95 465.00,442.58 465.25,422.71 465.50,410.30 465.75,410.30 466.00,410.30 466.25,410.30 466.50,410.30 466.75,410.30 467.00,410.30 467.25,410.30 467.50,418.05 467.75,434.98 468.00,452.32 468.25,469.13 468.50,484.63 468.75,498.32 469.00,509.92 469.25,519.44 469.50,527.06 469.75,533.10 470.00,537.95 470.25,542.00 470.50,545.51 470.75,548.62 471.00,551.49 471.25,554.21 471.50,556.82 471.75,559.28 472.00,561.54 472.25,563.53 472.50,565.18 472.75,566.46 473.00,567.35 473.25,567.86 473.50,568.04 473.75,567.96 474.00,567.72 474.25,567.41 474.50,567.13 474.75,566.95 475.00,566.94 475.25,567.09 475.50,567.37 475.75,567.78 476.00,568.29 476.25,568.89 476.50,569.55 476.75,570.23 477.00,570.90 477.25,571.53 477.50,572.10 477.75,572.59 478.00,573.00 478.25,573.32 478.50,573.57 478.75,573.74 479.00,573.85 479.25,573.92 479.50,573.96 479.75,573.98 480.00,573.99 480.25,574.01 480.50,574.04 480.75,574.10 481.00,574.17 481.25,574.27 481.50,574.40 481.75,574.55 482.00,574.72 482.25,574.91 482.50,575.11 482.75,575.32 483.00,575.53 483.25,575.75 483.50,575.96 483.75,576.16 484.00,576.35 484.25,576.53 484.50,576.70 484.75,576.85 485.00,576.98 485.25,577.10 485.50,577.21 485.75,577.30 486.00,577.37 486.25,577.44 486.50,577.49 486.75,577.54 487.00,577.57 487.25,577.60 487.50,577.63 487.75,577.65 488.00,577.66 488.25,577.67 488.50,577.68 488.75,577.69 489.00,577.70 489.25,577.70 489.50,577.71 489.75,577.71 490.00,577.71 490.25,577.72 490.50,577.72 490.75,577.72 491.00,577.72 491.25,577.73 491.50,577.73 491.75,577.73 492.00,577.73 492.25,577.74 492.50,577.74 492.75,577.74 493.00,577.74 493.25,577.74 493.50,577.75 493.75,577.75 494.00,577.75 494.25,577.75 494.50,577.75 494.75,577.76 495.00,577.76 495.25,577.76 495.50,577.76 495.75,577.76 496.00,577.77 496.25,577.77 496.50,577.77 496.75,577.77 497.00,577.77 497.25,577.78 497.50,577.78 497.75,577.78 498.00,577.78 498.25,577.78 498.50,577.78 498.75,577.78 499.00,577.78 499.25,577.78 499.50,577.78 499.75,577.77 500.00,577.76 500.25,577.74 500.50,577.72 500.75,577.69 501.00,577.64 501.25,577.59 501.50,577.51 501.75,577.42 502.00,577.31 502.25,577.17 502.50,577.00 502.75,576.81 503.00,576.60 503.25,576.36 503.50,576.10 503.75,575.82 504.00,575.54 504.25,575.25 504.50,574.98 504.75,574.72 505.00,574.50 505.25,574.31 505.50,574.17 505.75,574.09 506.00,574.06 506.25,574.09 506.50,574.18 506.75,574.33 507.00,574.52 507.25,574.75 507.50,575.01 507.75,575.29 508.00,575.58 508.25,575.86 508.50,576.15 508.75,576.41 509.00,576.66 509.25,576.88 509.50,577.07 509.75,577.24 510.00,577.39 510.25,577.51 510.50,577.60 510.75,577.68 511.00,577.74 511.25,577.79 511.50,577.83 511.75,577.86 512.00,577.88 512.25,577.89 512.50,577.91 512.75,577.91 513.00,577.92 513.25,577.93 513.50,577.93 513.75,577.94 514.00,577.94 514.25,577.94 514.50,577.94 514.75,577.95 515.00,577.95 515.25,577.95 515.50,577.95 515.75,577.95 516.00,577.95 516.25,577.95 516.50,577.95 516.75,577.95 517.00,577.94 517.25,577.93 517.50,577.92 517.75,577.90 518.00,577.88 518.25,577.85 518.50,577.81 518.75,577.76 519.00,577.69 519.25,577.62 519.50,577.53 519.75,577.43 520.00,577.32 520.25,577.20 520.50,577.08 520.75,576.94 521.00,576.81 521.25,576.68 521.50,576.56 521.75,576.45 522.00,576.35 522.25,576.28 522.50,576.23 522.75,576.21 523.00,576.22 523.25,576.25 523.50,576.30 523.75,576.37 524.00,576.45 524.25,576.54 524.50,576.63 524.75,576.72 525.00,576.80 525.25,576.86 525.50,576.90 525.75,576.92 526.00,576.91 526.25,576.88 526.50,576.82 526.75,576.75 527.00,576.66 527.25,576.56 527.50,576.45 527.75,576.35 528.00,576.25 528.25,576.17 528.50,576.12 528.75,576.08 529.00,576.08 529.25,576.10 529.50,576.15 529.75,576.23 530.00,576.33 530.25,576.46 530.50,576.59 530.75,576.74 531.00,576.90 531.25,577.05 531.50,577.20 531.75,577.34 532.00,577.47 532.25,577.59 532.50,577.69 532.75,577.78 533.00,577.86 533.25,577.92 533.50,577.98 533.75,578.02 534.00,578.05 534.25,578.08 534.50,578.10 534.75,578.12 535.00,578.13 535.25,578.14 535.50,578.14 535.75,578.15 536.00,578.16 536.25,578.16 536.50,578.16 536.75,578.17 537.00,578.17 537.25,578.17 537.50,578.17 537.75,578.18 538.00,578.18 538.25,578.18 538.50,578.18 538.75,578.19 539.00,578.19 539.25,578.19 539.50,578.19 539.75,578.20 540.00,578.20 540.25,578.20 540.50,578.20 540.75,578.20 541.00,578.20 541.25,578.20 541.50,578.19 541.75,578.18 542.00,578.15 542.25,578.11 542.50,578.04 542.75,577.94 543.00,577.78 543.25,577.54 543.50,577.19 543.75,576.69 544.00,575.98 544.25,575.01 544.50,573.68 544.75,571.92 545.00,569.62 545.25,566.67 545.50,562.96 545.75,558.39 546.00,552.88 546.25,546.37 546.50,538.84 546.75,530.32 547.00,520.92 547.25,510.79 547.50,500.16 547.75,489.33 548.00,478.65 548.25,468.51 548.50,459.30 548.75,451.43 549.00,445.24 549.25,441.02 549.50,438.98 549.75,439.12 550.00,441.09 550.25,444.76 550.50,450.00 550.75,456.62 551.00,464.38 551.25,473.01 551.50,482.24 551.75,491.78 552.00,501.38 552.25,510.79 552.50,519.81 552.75,528.28 553.00,536.07 553.25,543.11 553.50,549.35 553.75,554.79 554.00,559.46 554.25,563.40 554.50,566.67 554.75,569.34 555.00,571.49 555.25,573.20 555.50,574.53 555.75,575.55 556.00,576.33 556.25,576.92 556.50,577.35 556.75,577.66 557.00,577.88 557.25,578.04 557.50,578.15 557.75,578.23 558.00,578.28 558.25,578.32 558.50,578.35 558.75,578.36 559.00,578.37 559.25,578.38 559.50,578.39 559.75,578.39 560.00,578.40 560.25,578.40 560.50,578.40 560.75,578.40 561.00,578.40 561.25,578.40 561.50,578.40 561.75,578.40 562.00,578.39 562.25,578.39 562.50,578.37 562.75,578.35 563.00,578.33 563.25,578.28 563.50,578.22 563.75,578.13 564.00,578.00 564.25,577.82 564.50,577.58 564.75,577.28 565.00,576.89 565.25,576.41 565.50,575.83 565.75,575.16 566.00,574.40 566.25,573.57 566.50,572.70 566.75,571.81 567.00,570.94 567.25,570.15 567.50,569.46 567.75,568.92 568.00,568.56 568.25,568.41 568.50,568.47 568.75,568.72 569.00,569.14 569.25,569.71 569.50,570.40 569.75,571.18 570.00,572.01 570.25,572.85 570.50,573.67 570.75,574.45 571.00,575.17 571.25,575.80 571.50,576.36 571.75,576.82 572.00,577.21 572.25,577.52 572.50,577.76 572.75,577.95 573.00,578.09 573.25,578.19 573.50,578.26 573.75,578.31 574.00,578.35 574.25,578.38 574.50,578.39 574.75,578.40 575.00,578.41 575.25,578.41 575.50,578.41 575.75,578.42" fill="none" stroke="#1c1c1c" stroke-width="1.1" stroke-linejoin="round"/>
<polyline points="641.75,578.29 642.00,578.23 642.25,578.15 642.50,578.05 642.75,577.94 643.00,577.80 643.25,577.63 643.50,577.44 643.75,577.21 644.00,576.96 644.25,576.68 644.50,576.36 644.75,576.03 645.00,575.67 645.25,575.29 645.50,574.90 645.75,574.51 646.00,574.13 646.25,573.76 646.50,573.41 646.75,573.09 647.00,572.82 647.25,572.60 647.50,572.44 647.75,572.34 648.00,572.31 648.25,572.33 648.50,572.39 648.75,572.48 649.00,572.61 649.25,572.77 649.50,572.96 649.75,573.17 650.00,573.41 650.25,573.67 650.50,573.94 650.75,574.23 651.00,574.52 651.25,574.81 651.50,575.11 651.75,575.39 652.00,575.68 652.25,575.95 652.50,576.21 652.75,576.46 653.00,576.69 653.25,576.90 653.50,577.10 653.75,577.28 654.00,577.45 654.25,577.60 654.50,577.73 654.75,577.85 655.00,577.95 655.25,578.04 655.50,578.12 655.75,578.19 656.00,578.25 656.25,578.30 656.50,578.34 656.75,578.37 657.00,578.40 657.25,578.43 657.50,578.45 657.75,578.46 658.00,578.48 658.25,578.49 658.50,578.49 658.75,578.50 659.00,578.51 659.25,578.51 659.50,578.51 659.75,578.52 660.00,578.52 660.25,578.52 660.50,578.52 660.75,578.52 661.00,578.52 661.25,578.53 661.50,578.53 661.75,578.53 662.00,578.53 662.25,578.53 662.50,578.52 662.75,578.52 663.00,578.52 663.25,578.52 663.50,578.51 663.75,578.51 664.00,578.50 664.25,578.48 664.50,578.47 664.75,578.45 665.00,578.42 665.25,578.38 665.50,578.34 665.75,578.28 666.00,578.21 666.25,578.13 666.50,578.04 666.75,577.93 667.00,577.80 667.25,577.66 667.50,577.51 667.75,577.34 668.00,577.17 668.25,576.99 668.50,576.82 668.75,576.64 669.00,576.48 669.25,576.32 669.50,576.19 669.75,576.08 670.00,576.00 670.25,575.95 670.50,575.94 670.75,575.95 671.00,575.99 671.25,576.06 671.50,576.16 671.75,576.27 672.00,576.40 672.25,576.55 672.50,576.70 672.75,576.87 673.00,577.03 673.25,577.19 673.50,577.35 673.75,577.50 674.00,577.64 674.25,577.78 674.50,577.89 674.75,578.00 675.00,578.10 675.25,578.18 675.50,578.25 675.75,578.31 676.00,578.36 676.25,578.40 676.50,578.43 676.75,578.46" fill="none" stroke="#1c1c1c" stroke-width="1.1" stroke-linejoin="round"/>
<text transform="translate(237.10,550.00) rotate(-90) scale(1.06,1)" font-size="12.5" font-weight="normal" fill="#1a1a1a">(3,3,0,0,0)</text>
<text transform="translate(299.10,539.40) rotate(-90) scale(1.06,1)" font-size="12.5" font-weight="normal" fill="#1a1a1a">(3,3,1,0,0)</text>
<text transform="translate(319.50,422.00) rotate(-90) scale(1.06,1)" font-size="12.5" font-weight="normal" fill="#1a1a1a">(4,3,0,0,0)</text>
<text transform="translate(382.80,421.90) rotate(-90) scale(1.06,1)" font-size="12.5" font-weight="normal" fill="#1a1a1a">(4,3,1,0,0)</text>
<text transform="translate(388.40,497.70) rotate(-90) scale(1.06,1)" font-size="12.5" font-weight="normal" fill="#1a1a1a">(2,5,0,0,0)</text>
<text transform="translate(411.00,533.30) rotate(-90) scale(1.06,1)" font-size="12.5" font-weight="normal" fill="#1a1a1a">(3,4,1,0,0)</text>
<text transform="translate(492.80,417.60) rotate(-90) scale(1.06,1)" font-size="12.5" font-weight="normal" fill="#1a1a1a">(4,4,1,0,0)</text>
<text transform="translate(566.80,469.30) rotate(-90) scale(1.06,1)" font-size="12.5" font-weight="normal" fill="#1a1a1a">(4,5,1,0,0)</text>
<path d="M451.3,407.9 L451.3,403.6 Q451.3,401.6 453.3,401.6 L476.9,401.6 Q478.9,401.6 478.9,403.6 L478.9,407.9 M465.2,401.6 L465.2,395.4" fill="none" stroke="#111" stroke-width="1.4"/>
</svg>
</body></html>
